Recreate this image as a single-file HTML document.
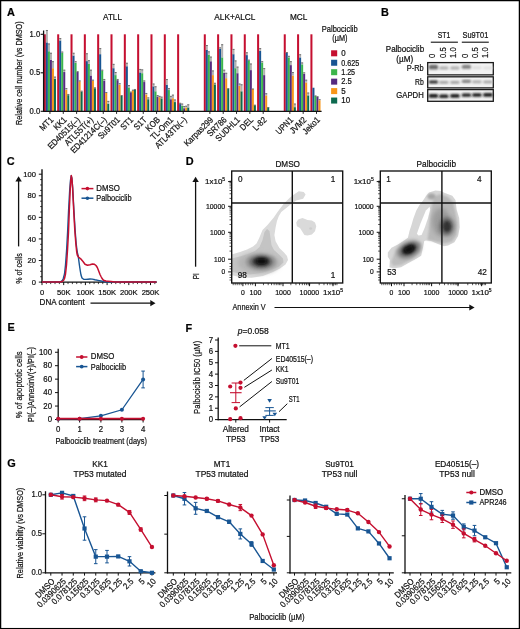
<!DOCTYPE html>
<html><head><meta charset="utf-8"><style>
html,body{margin:0;padding:0;background:#fff;}
.wrap{position:relative;width:520px;height:629px;overflow:hidden;background:#fff;}
svg{position:absolute;left:0;top:0;will-change:transform;}
text{font-family:"Liberation Sans", sans-serif;stroke:#111;stroke-width:0.22px;}
</style></head><body><div class="wrap">
<svg width="520" height="629" viewBox="0 0 520 629" font-family='"Liberation Sans", sans-serif'>
<rect x="0.6" y="0.6" width="518.8" height="628.0" fill="#fff" stroke="#000" stroke-width="1.3"/>
<defs><filter id="bl" x="-50%" y="-50%" width="200%" height="200%"><feGaussianBlur stdDeviation="0.8"/></filter><filter id="bl2" x="-50%" y="-50%" width="200%" height="200%"><feGaussianBlur stdDeviation="2.0"/></filter><filter id="bl3" x="-50%" y="-50%" width="200%" height="200%"><feGaussianBlur stdDeviation="0.9"/></filter><filter id="bl4" x="-50%" y="-50%" width="200%" height="200%"><feGaussianBlur stdDeviation="3.0"/></filter><filter id="bl5" x="-20%" y="-20%" width="140%" height="140%"><feGaussianBlur stdDeviation="0.45"/></filter></defs>
<text x="7.00" y="15.70" font-size="10.9" text-anchor="start" fill="#000" font-weight="bold" >A</text>
<text x="103.10" y="19.90" font-size="9.01" text-anchor="start" fill="#111" textLength="18.8" lengthAdjust="spacingAndGlyphs" >ATLL</text>
<text x="214.30" y="20.30" font-size="9.01" text-anchor="start" fill="#111" textLength="41.1" lengthAdjust="spacingAndGlyphs" >ALK+ALCL</text>
<text x="290.00" y="20.30" font-size="9.01" text-anchor="start" fill="#111" textLength="17.4" lengthAdjust="spacingAndGlyphs" >MCL</text>
<text x="22.00" y="73.20" font-size="9.22" text-anchor="middle" fill="#111" textLength="103.5" lengthAdjust="spacingAndGlyphs" transform="rotate(-90 22.00 73.20)" >Relative cell number (vs DMSO)</text>
<text x="40.20" y="36.99" font-size="8.27" text-anchor="end" fill="#111" textLength="10.6" lengthAdjust="spacingAndGlyphs" >1.0</text>
<line x1="40.60" y1="34.30" x2="44.00" y2="34.30" stroke="#111" stroke-width="1.1" />
<text x="40.20" y="75.49" font-size="8.27" text-anchor="end" fill="#111" textLength="10.6" lengthAdjust="spacingAndGlyphs" >0.5</text>
<line x1="40.60" y1="72.80" x2="44.00" y2="72.80" stroke="#111" stroke-width="1.1" />
<text x="40.20" y="113.99" font-size="8.27" text-anchor="end" fill="#111" textLength="10.6" lengthAdjust="spacingAndGlyphs" >0.0</text>
<line x1="40.60" y1="111.30" x2="44.00" y2="111.30" stroke="#111" stroke-width="1.1" />
<rect x="43.85" y="34.30" width="2.02" height="77.00" fill="#c50f30" />
<rect x="45.87" y="42.38" width="2.02" height="68.92" fill="#185593" />
<rect x="45.87" y="29.99" width="2.02" height="12.40" fill="#b2b2b2" />
<rect x="45.87" y="29.99" width="2.02" height="0.90" fill="#6a6a6a" />
<rect x="47.89" y="51.24" width="2.02" height="60.06" fill="#3cb54b" />
<rect x="47.89" y="43.54" width="2.02" height="7.70" fill="#b2b2b2" />
<rect x="47.89" y="43.54" width="2.02" height="0.90" fill="#6a6a6a" />
<rect x="49.91" y="59.71" width="2.02" height="51.59" fill="#552a80" />
<rect x="49.91" y="52.78" width="2.02" height="6.93" fill="#b2b2b2" />
<rect x="49.91" y="52.78" width="2.02" height="0.90" fill="#6a6a6a" />
<rect x="51.93" y="68.18" width="2.02" height="43.12" fill="#f8961a" />
<rect x="51.93" y="61.25" width="2.02" height="6.93" fill="#b2b2b2" />
<rect x="51.93" y="61.25" width="2.02" height="0.90" fill="#6a6a6a" />
<rect x="53.95" y="78.96" width="2.02" height="32.34" fill="#0d6a4f" />
<rect x="53.95" y="76.65" width="2.02" height="2.31" fill="#b2b2b2" />
<rect x="53.95" y="76.65" width="2.02" height="0.90" fill="#6a6a6a" />
<line x1="49.95" y1="111.30" x2="49.95" y2="113.90" stroke="#111" stroke-width="0.9" />
<text x="53.95" y="120.40" font-size="8.8" text-anchor="end" fill="#111" textLength="15.44" lengthAdjust="spacingAndGlyphs" transform="rotate(-45 53.95 120.40)" >MT1</text>
<rect x="57.18" y="34.30" width="2.02" height="77.00" fill="#c50f30" />
<rect x="59.20" y="40.46" width="2.02" height="70.84" fill="#185593" />
<rect x="59.20" y="38.15" width="2.02" height="2.31" fill="#b2b2b2" />
<rect x="59.20" y="38.15" width="2.02" height="0.90" fill="#6a6a6a" />
<rect x="61.22" y="52.78" width="2.02" height="58.52" fill="#3cb54b" />
<rect x="61.22" y="51.62" width="2.02" height="1.16" fill="#b2b2b2" />
<rect x="61.22" y="51.62" width="2.02" height="0.90" fill="#6a6a6a" />
<rect x="63.24" y="72.03" width="2.02" height="39.27" fill="#552a80" />
<rect x="63.24" y="69.72" width="2.02" height="2.31" fill="#b2b2b2" />
<rect x="63.24" y="69.72" width="2.02" height="0.90" fill="#6a6a6a" />
<rect x="65.26" y="89.74" width="2.02" height="21.56" fill="#f8961a" />
<rect x="65.26" y="88.20" width="2.02" height="1.54" fill="#b2b2b2" />
<rect x="65.26" y="88.20" width="2.02" height="0.90" fill="#6a6a6a" />
<rect x="67.28" y="95.13" width="2.02" height="16.17" fill="#0d6a4f" />
<rect x="67.28" y="93.97" width="2.02" height="1.16" fill="#b2b2b2" />
<rect x="67.28" y="93.97" width="2.02" height="0.90" fill="#6a6a6a" />
<line x1="63.28" y1="111.30" x2="63.28" y2="113.90" stroke="#111" stroke-width="0.9" />
<text x="67.28" y="120.40" font-size="8.8" text-anchor="end" fill="#111" textLength="14.59" lengthAdjust="spacingAndGlyphs" transform="rotate(-45 67.28 120.40)" >KK1</text>
<rect x="70.51" y="34.30" width="2.02" height="77.00" fill="#c50f30" />
<rect x="72.53" y="55.55" width="2.02" height="55.75" fill="#185593" />
<rect x="72.53" y="52.78" width="2.02" height="2.77" fill="#b2b2b2" />
<rect x="72.53" y="52.78" width="2.02" height="0.90" fill="#6a6a6a" />
<rect x="74.55" y="62.79" width="2.02" height="48.51" fill="#3cb54b" />
<rect x="74.55" y="61.25" width="2.02" height="1.54" fill="#b2b2b2" />
<rect x="74.55" y="61.25" width="2.02" height="0.90" fill="#6a6a6a" />
<rect x="76.57" y="72.03" width="2.02" height="39.27" fill="#552a80" />
<rect x="76.57" y="71.26" width="2.02" height="0.77" fill="#b2b2b2" />
<rect x="76.57" y="71.26" width="2.02" height="0.90" fill="#6a6a6a" />
<rect x="78.59" y="81.27" width="2.02" height="30.03" fill="#f8961a" />
<rect x="78.59" y="80.50" width="2.02" height="0.77" fill="#b2b2b2" />
<rect x="78.59" y="80.50" width="2.02" height="0.90" fill="#6a6a6a" />
<rect x="80.61" y="91.59" width="2.02" height="19.71" fill="#0d6a4f" />
<rect x="80.61" y="90.74" width="2.02" height="0.85" fill="#b2b2b2" />
<rect x="80.61" y="90.74" width="2.02" height="0.90" fill="#6a6a6a" />
<line x1="76.61" y1="111.30" x2="76.61" y2="113.90" stroke="#111" stroke-width="0.9" />
<text x="80.61" y="120.40" font-size="8.8" text-anchor="end" fill="#111" textLength="41.62" lengthAdjust="spacingAndGlyphs" transform="rotate(-45 80.61 120.40)" >ED40515(–)</text>
<rect x="83.83" y="34.30" width="2.02" height="77.00" fill="#c50f30" />
<rect x="85.85" y="61.10" width="2.02" height="50.20" fill="#185593" />
<rect x="85.85" y="53.32" width="2.02" height="7.78" fill="#b2b2b2" />
<rect x="85.85" y="53.32" width="2.02" height="0.90" fill="#6a6a6a" />
<rect x="87.87" y="63.87" width="2.02" height="47.43" fill="#3cb54b" />
<rect x="87.87" y="60.25" width="2.02" height="3.62" fill="#b2b2b2" />
<rect x="87.87" y="60.25" width="2.02" height="0.90" fill="#6a6a6a" />
<rect x="89.89" y="75.50" width="2.02" height="35.80" fill="#552a80" />
<rect x="89.89" y="69.72" width="2.02" height="5.78" fill="#b2b2b2" />
<rect x="89.89" y="69.72" width="2.02" height="0.90" fill="#6a6a6a" />
<rect x="91.91" y="80.50" width="2.02" height="30.80" fill="#f8961a" />
<rect x="91.91" y="79.73" width="2.02" height="0.77" fill="#b2b2b2" />
<rect x="91.91" y="79.73" width="2.02" height="0.90" fill="#6a6a6a" />
<rect x="93.93" y="88.20" width="2.02" height="23.10" fill="#0d6a4f" />
<rect x="93.93" y="87.43" width="2.02" height="0.77" fill="#b2b2b2" />
<rect x="93.93" y="87.43" width="2.02" height="0.90" fill="#6a6a6a" />
<line x1="89.93" y1="111.30" x2="89.93" y2="113.90" stroke="#111" stroke-width="0.9" />
<text x="93.93" y="120.40" font-size="8.8" text-anchor="end" fill="#111" textLength="36.53" lengthAdjust="spacingAndGlyphs" transform="rotate(-45 93.93 120.40)" >ATL55T(+)</text>
<rect x="97.16" y="34.30" width="2.02" height="77.00" fill="#c50f30" />
<rect x="99.18" y="54.17" width="2.02" height="57.13" fill="#185593" />
<rect x="99.18" y="48.16" width="2.02" height="6.01" fill="#b2b2b2" />
<rect x="99.18" y="48.16" width="2.02" height="0.90" fill="#6a6a6a" />
<rect x="101.20" y="70.49" width="2.02" height="40.81" fill="#3cb54b" />
<rect x="101.20" y="69.72" width="2.02" height="0.77" fill="#b2b2b2" />
<rect x="101.20" y="69.72" width="2.02" height="0.90" fill="#6a6a6a" />
<rect x="103.22" y="80.50" width="2.02" height="30.80" fill="#552a80" />
<rect x="103.22" y="78.96" width="2.02" height="1.54" fill="#b2b2b2" />
<rect x="103.22" y="78.96" width="2.02" height="0.90" fill="#6a6a6a" />
<rect x="105.24" y="92.97" width="2.02" height="18.33" fill="#f8961a" />
<rect x="105.24" y="92.05" width="2.02" height="0.92" fill="#b2b2b2" />
<rect x="105.24" y="92.05" width="2.02" height="0.90" fill="#6a6a6a" />
<rect x="107.26" y="103.60" width="2.02" height="7.70" fill="#0d6a4f" />
<rect x="107.26" y="100.91" width="2.02" height="2.70" fill="#b2b2b2" />
<rect x="107.26" y="100.91" width="2.02" height="0.90" fill="#6a6a6a" />
<line x1="103.26" y1="111.30" x2="103.26" y2="113.90" stroke="#111" stroke-width="0.9" />
<text x="107.26" y="120.40" font-size="8.8" text-anchor="end" fill="#111" textLength="47.19" lengthAdjust="spacingAndGlyphs" transform="rotate(-45 107.26 120.40)" >ED41214C(–)</text>
<rect x="110.49" y="34.30" width="2.02" height="77.00" fill="#c50f30" />
<rect x="112.51" y="68.18" width="2.02" height="43.12" fill="#185593" />
<rect x="112.51" y="63.87" width="2.02" height="4.31" fill="#b2b2b2" />
<rect x="112.51" y="63.87" width="2.02" height="0.90" fill="#6a6a6a" />
<rect x="114.53" y="75.11" width="2.02" height="36.19" fill="#3cb54b" />
<rect x="114.53" y="72.03" width="2.02" height="3.08" fill="#b2b2b2" />
<rect x="114.53" y="72.03" width="2.02" height="0.90" fill="#6a6a6a" />
<rect x="116.55" y="80.11" width="2.02" height="31.19" fill="#552a80" />
<rect x="116.55" y="78.96" width="2.02" height="1.15" fill="#b2b2b2" />
<rect x="116.55" y="78.96" width="2.02" height="0.90" fill="#6a6a6a" />
<rect x="118.57" y="84.66" width="2.02" height="26.64" fill="#f8961a" />
<rect x="118.57" y="83.27" width="2.02" height="1.39" fill="#b2b2b2" />
<rect x="118.57" y="83.27" width="2.02" height="0.90" fill="#6a6a6a" />
<rect x="120.59" y="95.90" width="2.02" height="15.40" fill="#0d6a4f" />
<rect x="120.59" y="95.13" width="2.02" height="0.77" fill="#b2b2b2" />
<rect x="120.59" y="95.13" width="2.02" height="0.90" fill="#6a6a6a" />
<line x1="116.59" y1="111.30" x2="116.59" y2="113.90" stroke="#111" stroke-width="0.9" />
<text x="120.59" y="120.40" font-size="8.8" text-anchor="end" fill="#111" textLength="27.03" lengthAdjust="spacingAndGlyphs" transform="rotate(-45 120.59 120.40)" >Su9T01</text>
<rect x="123.82" y="34.30" width="2.02" height="77.00" fill="#c50f30" />
<rect x="125.84" y="66.25" width="2.02" height="45.04" fill="#185593" />
<rect x="125.84" y="62.79" width="2.02" height="3.47" fill="#b2b2b2" />
<rect x="125.84" y="62.79" width="2.02" height="0.90" fill="#6a6a6a" />
<rect x="127.86" y="87.43" width="2.02" height="23.87" fill="#3cb54b" />
<rect x="127.86" y="85.12" width="2.02" height="2.31" fill="#b2b2b2" />
<rect x="127.86" y="85.12" width="2.02" height="0.90" fill="#6a6a6a" />
<rect x="129.88" y="92.28" width="2.02" height="19.02" fill="#552a80" />
<rect x="129.88" y="91.66" width="2.02" height="0.62" fill="#b2b2b2" />
<rect x="129.88" y="91.66" width="2.02" height="0.90" fill="#6a6a6a" />
<rect x="131.90" y="90.20" width="2.02" height="21.10" fill="#f8961a" />
<rect x="131.90" y="89.74" width="2.02" height="0.46" fill="#b2b2b2" />
<rect x="131.90" y="89.74" width="2.02" height="0.90" fill="#6a6a6a" />
<rect x="133.92" y="89.36" width="2.02" height="21.94" fill="#0d6a4f" />
<rect x="133.92" y="88.97" width="2.02" height="0.39" fill="#b2b2b2" />
<rect x="133.92" y="88.97" width="2.02" height="0.90" fill="#6a6a6a" />
<line x1="129.92" y1="111.30" x2="129.92" y2="113.90" stroke="#111" stroke-width="0.9" />
<text x="133.92" y="120.40" font-size="8.8" text-anchor="end" fill="#111" textLength="14.16" lengthAdjust="spacingAndGlyphs" transform="rotate(-45 133.92 120.40)" >ST1</text>
<rect x="137.15" y="34.30" width="2.02" height="77.00" fill="#c50f30" />
<rect x="139.17" y="72.41" width="2.02" height="38.88" fill="#185593" />
<rect x="139.17" y="68.95" width="2.02" height="3.47" fill="#b2b2b2" />
<rect x="139.17" y="68.95" width="2.02" height="0.90" fill="#6a6a6a" />
<rect x="141.19" y="73.19" width="2.02" height="38.12" fill="#3cb54b" />
<rect x="141.19" y="69.41" width="2.02" height="3.77" fill="#b2b2b2" />
<rect x="141.19" y="69.41" width="2.02" height="0.90" fill="#6a6a6a" />
<rect x="143.21" y="82.04" width="2.02" height="29.26" fill="#552a80" />
<rect x="143.21" y="80.50" width="2.02" height="1.54" fill="#b2b2b2" />
<rect x="143.21" y="80.50" width="2.02" height="0.90" fill="#6a6a6a" />
<rect x="145.23" y="94.36" width="2.02" height="16.94" fill="#f8961a" />
<rect x="145.23" y="92.97" width="2.02" height="1.39" fill="#b2b2b2" />
<rect x="145.23" y="92.97" width="2.02" height="0.90" fill="#6a6a6a" />
<rect x="147.25" y="99.21" width="2.02" height="12.09" fill="#0d6a4f" />
<rect x="147.25" y="97.44" width="2.02" height="1.77" fill="#b2b2b2" />
<rect x="147.25" y="97.44" width="2.02" height="0.90" fill="#6a6a6a" />
<line x1="143.25" y1="111.30" x2="143.25" y2="113.90" stroke="#111" stroke-width="0.9" />
<text x="147.25" y="120.40" font-size="8.8" text-anchor="end" fill="#111" textLength="14.16" lengthAdjust="spacingAndGlyphs" transform="rotate(-45 147.25 120.40)" >S1T</text>
<rect x="150.47" y="34.30" width="2.02" height="77.00" fill="#c50f30" />
<rect x="152.49" y="86.35" width="2.02" height="24.95" fill="#185593" />
<rect x="152.49" y="83.58" width="2.02" height="2.77" fill="#b2b2b2" />
<rect x="152.49" y="83.58" width="2.02" height="0.90" fill="#6a6a6a" />
<rect x="154.51" y="91.28" width="2.02" height="20.02" fill="#3cb54b" />
<rect x="154.51" y="86.35" width="2.02" height="4.93" fill="#b2b2b2" />
<rect x="154.51" y="86.35" width="2.02" height="0.90" fill="#6a6a6a" />
<rect x="156.53" y="96.44" width="2.02" height="14.86" fill="#552a80" />
<rect x="156.53" y="95.13" width="2.02" height="1.31" fill="#b2b2b2" />
<rect x="156.53" y="95.13" width="2.02" height="0.90" fill="#6a6a6a" />
<rect x="158.55" y="97.13" width="2.02" height="14.17" fill="#f8961a" />
<rect x="158.55" y="95.90" width="2.02" height="1.23" fill="#b2b2b2" />
<rect x="158.55" y="95.90" width="2.02" height="0.90" fill="#6a6a6a" />
<rect x="160.57" y="98.36" width="2.02" height="12.94" fill="#0d6a4f" />
<rect x="160.57" y="96.67" width="2.02" height="1.69" fill="#b2b2b2" />
<rect x="160.57" y="96.67" width="2.02" height="0.90" fill="#6a6a6a" />
<line x1="156.57" y1="111.30" x2="156.57" y2="113.90" stroke="#111" stroke-width="0.9" />
<text x="160.57" y="120.40" font-size="8.8" text-anchor="end" fill="#111" textLength="16.3" lengthAdjust="spacingAndGlyphs" transform="rotate(-45 160.57 120.40)" >KOB</text>
<rect x="163.80" y="34.30" width="2.02" height="77.00" fill="#c50f30" />
<rect x="165.82" y="84.66" width="2.02" height="26.64" fill="#185593" />
<rect x="165.82" y="79.11" width="2.02" height="5.54" fill="#b2b2b2" />
<rect x="165.82" y="79.11" width="2.02" height="0.90" fill="#6a6a6a" />
<rect x="167.84" y="90.05" width="2.02" height="21.25" fill="#3cb54b" />
<rect x="167.84" y="88.20" width="2.02" height="1.85" fill="#b2b2b2" />
<rect x="167.84" y="88.20" width="2.02" height="0.90" fill="#6a6a6a" />
<rect x="169.86" y="99.21" width="2.02" height="12.09" fill="#552a80" />
<rect x="169.86" y="95.90" width="2.02" height="3.31" fill="#b2b2b2" />
<rect x="169.86" y="95.90" width="2.02" height="0.90" fill="#6a6a6a" />
<rect x="171.88" y="98.21" width="2.02" height="13.09" fill="#f8961a" />
<rect x="171.88" y="94.67" width="2.02" height="3.54" fill="#b2b2b2" />
<rect x="171.88" y="94.67" width="2.02" height="0.90" fill="#6a6a6a" />
<rect x="173.90" y="102.06" width="2.02" height="9.24" fill="#0d6a4f" />
<rect x="173.90" y="99.52" width="2.02" height="2.54" fill="#b2b2b2" />
<rect x="173.90" y="99.52" width="2.02" height="0.90" fill="#6a6a6a" />
<line x1="169.90" y1="111.30" x2="169.90" y2="113.90" stroke="#111" stroke-width="0.9" />
<text x="173.90" y="120.40" font-size="8.8" text-anchor="end" fill="#111" textLength="28.3" lengthAdjust="spacingAndGlyphs" transform="rotate(-45 173.90 120.40)" >TL-Om1</text>
<rect x="177.13" y="34.30" width="2.02" height="77.00" fill="#c50f30" />
<rect x="179.15" y="104.06" width="2.02" height="7.24" fill="#185593" />
<rect x="179.15" y="102.83" width="2.02" height="1.23" fill="#b2b2b2" />
<rect x="179.15" y="102.83" width="2.02" height="0.90" fill="#6a6a6a" />
<rect x="181.17" y="105.76" width="2.02" height="5.54" fill="#3cb54b" />
<rect x="181.17" y="103.60" width="2.02" height="2.16" fill="#b2b2b2" />
<rect x="181.17" y="103.60" width="2.02" height="0.90" fill="#6a6a6a" />
<rect x="183.19" y="108.22" width="2.02" height="3.08" fill="#552a80" />
<rect x="183.19" y="106.06" width="2.02" height="2.16" fill="#b2b2b2" />
<rect x="183.19" y="106.06" width="2.02" height="0.90" fill="#6a6a6a" />
<rect x="185.21" y="107.45" width="2.02" height="3.85" fill="#f8961a" />
<rect x="185.21" y="105.76" width="2.02" height="1.69" fill="#b2b2b2" />
<rect x="185.21" y="105.76" width="2.02" height="0.90" fill="#6a6a6a" />
<rect x="187.23" y="107.45" width="2.02" height="3.85" fill="#0d6a4f" />
<rect x="187.23" y="104.37" width="2.02" height="3.08" fill="#b2b2b2" />
<rect x="187.23" y="104.37" width="2.02" height="0.90" fill="#6a6a6a" />
<line x1="183.23" y1="111.30" x2="183.23" y2="113.90" stroke="#111" stroke-width="0.9" />
<text x="187.23" y="120.40" font-size="8.8" text-anchor="end" fill="#111" textLength="40.61" lengthAdjust="spacingAndGlyphs" transform="rotate(-45 187.23 120.40)" >ATL43Tb(–)</text>
<rect x="203.79" y="34.30" width="2.02" height="77.00" fill="#c50f30" />
<rect x="205.81" y="50.01" width="2.02" height="61.29" fill="#185593" />
<rect x="205.81" y="45.08" width="2.02" height="4.93" fill="#b2b2b2" />
<rect x="205.81" y="45.08" width="2.02" height="0.90" fill="#6a6a6a" />
<rect x="207.83" y="54.70" width="2.02" height="56.59" fill="#3cb54b" />
<rect x="207.83" y="51.39" width="2.02" height="3.31" fill="#b2b2b2" />
<rect x="207.83" y="51.39" width="2.02" height="0.90" fill="#6a6a6a" />
<rect x="209.85" y="61.25" width="2.02" height="50.05" fill="#552a80" />
<rect x="209.85" y="56.63" width="2.02" height="4.62" fill="#b2b2b2" />
<rect x="209.85" y="56.63" width="2.02" height="0.90" fill="#6a6a6a" />
<rect x="211.87" y="75.11" width="2.02" height="36.19" fill="#f8961a" />
<rect x="211.87" y="70.49" width="2.02" height="4.62" fill="#b2b2b2" />
<rect x="211.87" y="70.49" width="2.02" height="0.90" fill="#6a6a6a" />
<rect x="213.89" y="84.35" width="2.02" height="26.95" fill="#0d6a4f" />
<rect x="213.89" y="82.81" width="2.02" height="1.54" fill="#b2b2b2" />
<rect x="213.89" y="82.81" width="2.02" height="0.90" fill="#6a6a6a" />
<line x1="209.89" y1="111.30" x2="209.89" y2="113.90" stroke="#111" stroke-width="0.9" />
<text x="213.89" y="120.40" font-size="8.8" text-anchor="end" fill="#111" textLength="37.33" lengthAdjust="spacingAndGlyphs" transform="rotate(-45 213.89 120.40)" >Karpas299</text>
<rect x="217.11" y="34.30" width="2.02" height="77.00" fill="#c50f30" />
<rect x="219.13" y="48.62" width="2.02" height="62.68" fill="#185593" />
<rect x="219.13" y="47.39" width="2.02" height="1.23" fill="#b2b2b2" />
<rect x="219.13" y="47.39" width="2.02" height="0.90" fill="#6a6a6a" />
<rect x="221.15" y="57.40" width="2.02" height="53.90" fill="#3cb54b" />
<rect x="221.15" y="44.31" width="2.02" height="13.09" fill="#b2b2b2" />
<rect x="221.15" y="44.31" width="2.02" height="0.90" fill="#6a6a6a" />
<rect x="223.17" y="72.80" width="2.02" height="38.50" fill="#552a80" />
<rect x="223.17" y="69.72" width="2.02" height="3.08" fill="#b2b2b2" />
<rect x="223.17" y="69.72" width="2.02" height="0.90" fill="#6a6a6a" />
<rect x="225.19" y="78.19" width="2.02" height="33.11" fill="#f8961a" />
<rect x="225.19" y="72.80" width="2.02" height="5.39" fill="#b2b2b2" />
<rect x="225.19" y="72.80" width="2.02" height="0.90" fill="#6a6a6a" />
<rect x="227.21" y="88.97" width="2.02" height="22.33" fill="#0d6a4f" />
<rect x="227.21" y="88.20" width="2.02" height="0.77" fill="#b2b2b2" />
<rect x="227.21" y="88.20" width="2.02" height="0.90" fill="#6a6a6a" />
<line x1="223.21" y1="111.30" x2="223.21" y2="113.90" stroke="#111" stroke-width="0.9" />
<text x="227.21" y="120.40" font-size="8.8" text-anchor="end" fill="#111" textLength="23.6" lengthAdjust="spacingAndGlyphs" transform="rotate(-45 227.21 120.40)" >SR786</text>
<rect x="230.44" y="34.30" width="2.02" height="77.00" fill="#c50f30" />
<rect x="232.46" y="54.17" width="2.02" height="57.13" fill="#185593" />
<rect x="232.46" y="48.93" width="2.02" height="5.24" fill="#b2b2b2" />
<rect x="232.46" y="48.93" width="2.02" height="0.90" fill="#6a6a6a" />
<rect x="234.48" y="68.18" width="2.02" height="43.12" fill="#3cb54b" />
<rect x="234.48" y="60.48" width="2.02" height="7.70" fill="#b2b2b2" />
<rect x="234.48" y="60.48" width="2.02" height="0.90" fill="#6a6a6a" />
<rect x="236.50" y="73.19" width="2.02" height="38.12" fill="#552a80" />
<rect x="236.50" y="66.64" width="2.02" height="6.54" fill="#b2b2b2" />
<rect x="236.50" y="66.64" width="2.02" height="0.90" fill="#6a6a6a" />
<rect x="238.52" y="85.89" width="2.02" height="25.41" fill="#f8961a" />
<rect x="238.52" y="83.58" width="2.02" height="2.31" fill="#b2b2b2" />
<rect x="238.52" y="83.58" width="2.02" height="0.90" fill="#6a6a6a" />
<rect x="240.54" y="91.28" width="2.02" height="20.02" fill="#0d6a4f" />
<rect x="240.54" y="84.35" width="2.02" height="6.93" fill="#b2b2b2" />
<rect x="240.54" y="84.35" width="2.02" height="0.90" fill="#6a6a6a" />
<line x1="236.54" y1="111.30" x2="236.54" y2="113.90" stroke="#111" stroke-width="0.9" />
<text x="240.54" y="120.40" font-size="8.8" text-anchor="end" fill="#111" textLength="30.46" lengthAdjust="spacingAndGlyphs" transform="rotate(-45 240.54 120.40)" >SUDHL1</text>
<rect x="243.77" y="34.30" width="2.02" height="77.00" fill="#c50f30" />
<rect x="245.79" y="55.09" width="2.02" height="56.21" fill="#185593" />
<rect x="245.79" y="52.32" width="2.02" height="2.77" fill="#b2b2b2" />
<rect x="245.79" y="52.32" width="2.02" height="0.90" fill="#6a6a6a" />
<rect x="247.81" y="60.48" width="2.02" height="50.82" fill="#3cb54b" />
<rect x="247.81" y="59.71" width="2.02" height="0.77" fill="#b2b2b2" />
<rect x="247.81" y="59.71" width="2.02" height="0.90" fill="#6a6a6a" />
<rect x="249.83" y="70.10" width="2.02" height="41.20" fill="#552a80" />
<rect x="249.83" y="63.56" width="2.02" height="6.54" fill="#b2b2b2" />
<rect x="249.83" y="63.56" width="2.02" height="0.90" fill="#6a6a6a" />
<rect x="251.85" y="88.97" width="2.02" height="22.33" fill="#f8961a" />
<rect x="251.85" y="88.58" width="2.02" height="0.39" fill="#b2b2b2" />
<rect x="251.85" y="88.58" width="2.02" height="0.90" fill="#6a6a6a" />
<rect x="253.87" y="105.14" width="2.02" height="6.16" fill="#0d6a4f" />
<rect x="253.87" y="104.75" width="2.02" height="0.39" fill="#b2b2b2" />
<rect x="253.87" y="104.75" width="2.02" height="0.90" fill="#6a6a6a" />
<line x1="249.87" y1="111.30" x2="249.87" y2="113.90" stroke="#111" stroke-width="0.9" />
<text x="253.87" y="120.40" font-size="8.8" text-anchor="end" fill="#111" textLength="15.02" lengthAdjust="spacingAndGlyphs" transform="rotate(-45 253.87 120.40)" >DEL</text>
<rect x="257.10" y="34.30" width="2.02" height="77.00" fill="#c50f30" />
<rect x="259.12" y="50.93" width="2.02" height="60.37" fill="#185593" />
<rect x="259.12" y="48.16" width="2.02" height="2.77" fill="#b2b2b2" />
<rect x="259.12" y="48.16" width="2.02" height="0.90" fill="#6a6a6a" />
<rect x="261.14" y="62.48" width="2.02" height="48.82" fill="#3cb54b" />
<rect x="261.14" y="61.25" width="2.02" height="1.23" fill="#b2b2b2" />
<rect x="261.14" y="61.25" width="2.02" height="0.90" fill="#6a6a6a" />
<rect x="263.16" y="75.11" width="2.02" height="36.19" fill="#552a80" />
<rect x="263.16" y="68.18" width="2.02" height="6.93" fill="#b2b2b2" />
<rect x="263.16" y="68.18" width="2.02" height="0.90" fill="#6a6a6a" />
<rect x="265.18" y="95.36" width="2.02" height="15.94" fill="#f8961a" />
<rect x="265.18" y="93.28" width="2.02" height="2.08" fill="#b2b2b2" />
<rect x="265.18" y="93.28" width="2.02" height="0.90" fill="#6a6a6a" />
<rect x="267.20" y="107.45" width="2.02" height="3.85" fill="#0d6a4f" />
<rect x="267.20" y="107.06" width="2.02" height="0.38" fill="#b2b2b2" />
<rect x="267.20" y="107.06" width="2.02" height="0.90" fill="#6a6a6a" />
<line x1="263.20" y1="111.30" x2="263.20" y2="113.90" stroke="#111" stroke-width="0.9" />
<text x="267.20" y="120.40" font-size="8.8" text-anchor="end" fill="#111" textLength="15.45" lengthAdjust="spacingAndGlyphs" transform="rotate(-45 267.20 120.40)" >L-82</text>
<rect x="283.75" y="34.30" width="2.02" height="77.00" fill="#c50f30" />
<rect x="285.77" y="53.01" width="2.02" height="58.29" fill="#185593" />
<rect x="285.77" y="52.01" width="2.02" height="1.00" fill="#b2b2b2" />
<rect x="285.77" y="52.01" width="2.02" height="0.90" fill="#6a6a6a" />
<rect x="287.79" y="57.40" width="2.02" height="53.90" fill="#3cb54b" />
<rect x="287.79" y="55.86" width="2.02" height="1.54" fill="#b2b2b2" />
<rect x="287.79" y="55.86" width="2.02" height="0.90" fill="#6a6a6a" />
<rect x="289.81" y="65.10" width="2.02" height="46.20" fill="#552a80" />
<rect x="289.81" y="61.25" width="2.02" height="3.85" fill="#b2b2b2" />
<rect x="289.81" y="61.25" width="2.02" height="0.90" fill="#6a6a6a" />
<rect x="291.83" y="75.50" width="2.02" height="35.80" fill="#f8961a" />
<rect x="291.83" y="72.03" width="2.02" height="3.46" fill="#b2b2b2" />
<rect x="291.83" y="72.03" width="2.02" height="0.90" fill="#6a6a6a" />
<rect x="293.85" y="107.14" width="2.02" height="4.16" fill="#0d6a4f" />
<rect x="293.85" y="103.60" width="2.02" height="3.54" fill="#b2b2b2" />
<rect x="293.85" y="103.60" width="2.02" height="0.90" fill="#6a6a6a" />
<line x1="289.85" y1="111.30" x2="289.85" y2="113.90" stroke="#111" stroke-width="0.9" />
<text x="293.85" y="120.40" font-size="8.8" text-anchor="end" fill="#111" textLength="20.59" lengthAdjust="spacingAndGlyphs" transform="rotate(-45 293.85 120.40)" >UPN1</text>
<rect x="297.08" y="34.30" width="2.02" height="77.00" fill="#c50f30" />
<rect x="299.10" y="57.40" width="2.02" height="53.90" fill="#185593" />
<rect x="299.10" y="54.32" width="2.02" height="3.08" fill="#b2b2b2" />
<rect x="299.10" y="54.32" width="2.02" height="0.90" fill="#6a6a6a" />
<rect x="301.12" y="64.33" width="2.02" height="46.97" fill="#3cb54b" />
<rect x="301.12" y="62.48" width="2.02" height="1.85" fill="#b2b2b2" />
<rect x="301.12" y="62.48" width="2.02" height="0.90" fill="#6a6a6a" />
<rect x="303.14" y="73.88" width="2.02" height="37.42" fill="#552a80" />
<rect x="303.14" y="72.41" width="2.02" height="1.46" fill="#b2b2b2" />
<rect x="303.14" y="72.41" width="2.02" height="0.90" fill="#6a6a6a" />
<rect x="305.16" y="82.42" width="2.02" height="28.88" fill="#f8961a" />
<rect x="305.16" y="79.73" width="2.02" height="2.69" fill="#b2b2b2" />
<rect x="305.16" y="79.73" width="2.02" height="0.90" fill="#6a6a6a" />
<rect x="307.18" y="95.36" width="2.02" height="15.94" fill="#0d6a4f" />
<rect x="307.18" y="92.59" width="2.02" height="2.77" fill="#b2b2b2" />
<rect x="307.18" y="92.59" width="2.02" height="0.90" fill="#6a6a6a" />
<line x1="303.18" y1="111.30" x2="303.18" y2="113.90" stroke="#111" stroke-width="0.9" />
<text x="307.18" y="120.40" font-size="8.8" text-anchor="end" fill="#111" textLength="19.73" lengthAdjust="spacingAndGlyphs" transform="rotate(-45 307.18 120.40)" >JVM2</text>
<rect x="310.41" y="34.30" width="2.02" height="77.00" fill="#c50f30" />
<rect x="312.43" y="87.74" width="2.02" height="23.56" fill="#185593" />
<rect x="314.45" y="95.90" width="2.02" height="15.40" fill="#3cb54b" />
<rect x="314.45" y="95.52" width="2.02" height="0.38" fill="#b2b2b2" />
<rect x="314.45" y="95.52" width="2.02" height="0.90" fill="#6a6a6a" />
<rect x="316.47" y="96.98" width="2.02" height="14.32" fill="#552a80" />
<rect x="316.47" y="96.28" width="2.02" height="0.69" fill="#b2b2b2" />
<rect x="316.47" y="96.28" width="2.02" height="0.90" fill="#6a6a6a" />
<rect x="318.49" y="100.21" width="2.02" height="11.09" fill="#f8961a" />
<rect x="318.49" y="99.21" width="2.02" height="1.00" fill="#b2b2b2" />
<rect x="318.49" y="99.21" width="2.02" height="0.90" fill="#6a6a6a" />
<line x1="316.51" y1="111.30" x2="316.51" y2="113.90" stroke="#111" stroke-width="0.9" />
<text x="320.51" y="120.40" font-size="8.8" text-anchor="end" fill="#111" textLength="20.6" lengthAdjust="spacingAndGlyphs" transform="rotate(-45 320.51 120.40)" >Jeko1</text>
<line x1="43.60" y1="30.50" x2="43.60" y2="111.90" stroke="#111" stroke-width="1.3" />
<line x1="43.00" y1="111.30" x2="321.60" y2="111.30" stroke="#111" stroke-width="1.3" />
<text x="321.80" y="32.26" font-size="8.48" text-anchor="start" fill="#111" textLength="35.9" lengthAdjust="spacingAndGlyphs" >Palbociclib</text>
<text x="339.90" y="40.76" font-size="8.48" text-anchor="middle" fill="#111" textLength="15.2" lengthAdjust="spacingAndGlyphs" >(µM)</text>
<rect x="331.10" y="50.30" width="6.10" height="6.00" fill="#c50f30" />
<text x="341.20" y="56.06" font-size="8.48" text-anchor="start" fill="#111" textLength="4.4" lengthAdjust="spacingAndGlyphs" >0</text>
<rect x="331.10" y="59.75" width="6.10" height="6.00" fill="#185593" />
<text x="341.20" y="65.51" font-size="8.48" text-anchor="start" fill="#111" textLength="18.0" lengthAdjust="spacingAndGlyphs" >0.625</text>
<rect x="331.10" y="69.20" width="6.10" height="6.00" fill="#3cb54b" />
<text x="341.20" y="74.96" font-size="8.48" text-anchor="start" fill="#111" textLength="13.9" lengthAdjust="spacingAndGlyphs" >1.25</text>
<rect x="331.10" y="78.65" width="6.10" height="6.00" fill="#552a80" />
<text x="341.20" y="84.41" font-size="8.48" text-anchor="start" fill="#111" textLength="10.6" lengthAdjust="spacingAndGlyphs" >2.5</text>
<rect x="331.10" y="88.10" width="6.10" height="6.00" fill="#f8961a" />
<text x="341.20" y="93.86" font-size="8.48" text-anchor="start" fill="#111" textLength="4.4" lengthAdjust="spacingAndGlyphs" >5</text>
<rect x="331.10" y="97.55" width="6.10" height="6.00" fill="#0d6a4f" />
<text x="341.20" y="103.31" font-size="8.48" text-anchor="start" fill="#111" textLength="8.9" lengthAdjust="spacingAndGlyphs" >10</text>
<text x="381.00" y="15.80" font-size="10.9" text-anchor="start" fill="#000" font-weight="bold" >B</text>
<text x="437.70" y="38.20" font-size="8.69" text-anchor="start" fill="#111" textLength="12.5" lengthAdjust="spacingAndGlyphs" >ST1</text>
<text x="462.50" y="38.20" font-size="8.69" text-anchor="start" fill="#111" textLength="25.8" lengthAdjust="spacingAndGlyphs" >Su9T01</text>
<line x1="430.80" y1="42.20" x2="457.90" y2="42.20" stroke="#111" stroke-width="1.1" />
<line x1="461.80" y1="42.20" x2="488.80" y2="42.20" stroke="#111" stroke-width="1.1" />
<text x="385.80" y="52.20" font-size="8.37" text-anchor="start" fill="#111" textLength="38.3" lengthAdjust="spacingAndGlyphs" >Palbociclib</text>
<text x="396.30" y="61.60" font-size="8.37" text-anchor="start" fill="#111" textLength="16.9" lengthAdjust="spacingAndGlyphs" >(µM)</text>
<text x="435.10" y="57.90" font-size="8.16" text-anchor="start" fill="#111" textLength="4.3" lengthAdjust="spacingAndGlyphs" transform="rotate(-90 435.10 57.90)" >0</text>
<text x="446.00" y="57.90" font-size="8.16" text-anchor="start" fill="#111" textLength="10.6" lengthAdjust="spacingAndGlyphs" transform="rotate(-90 446.00 57.90)" >0.5</text>
<text x="456.10" y="57.90" font-size="8.16" text-anchor="start" fill="#111" textLength="10.6" lengthAdjust="spacingAndGlyphs" transform="rotate(-90 456.10 57.90)" >1.0</text>
<text x="468.00" y="57.90" font-size="8.16" text-anchor="start" fill="#111" textLength="4.3" lengthAdjust="spacingAndGlyphs" transform="rotate(-90 468.00 57.90)" >0</text>
<text x="478.00" y="57.90" font-size="8.16" text-anchor="start" fill="#111" textLength="10.6" lengthAdjust="spacingAndGlyphs" transform="rotate(-90 478.00 57.90)" >0.5</text>
<text x="488.00" y="57.90" font-size="8.16" text-anchor="start" fill="#111" textLength="10.6" lengthAdjust="spacingAndGlyphs" transform="rotate(-90 488.00 57.90)" >1.0</text>
<rect x="427.70" y="62.60" width="65.60" height="12.30" fill="#f2f2f2" stroke="#1a1a1a" stroke-width="1.3"/>
<rect x="428.7" y="65.4" width="9.4" height="4.0" rx="1.5" fill="rgb(110,110,110)" filter="url(#bl)"/>
<rect x="429.4" y="65.4" width="8.0" height="1.3" rx="0.6" fill="rgb(78,78,78)" filter="url(#bl)"/>
<rect x="439.1" y="66.4" width="9.4" height="3.0" rx="1.5" fill="rgb(172,172,172)" filter="url(#bl)"/>
<rect x="450.2" y="66.4" width="9.4" height="3.0" rx="1.5" fill="rgb(172,172,172)" filter="url(#bl)"/>
<rect x="461.7" y="65.5" width="9.4" height="3.4" rx="1.5" fill="rgb(140,140,140)" filter="url(#bl)"/>
<rect x="462.4" y="65.5" width="8.0" height="1.3" rx="0.6" fill="rgb(100,100,100)" filter="url(#bl)"/>
<rect x="472.2" y="66.5" width="9.4" height="2.6" rx="1.5" fill="rgb(218,218,218)" filter="url(#bl)"/>
<rect x="483.2" y="66.7" width="9.4" height="2.6" rx="1.5" fill="rgb(222,222,222)" filter="url(#bl)"/>
<text x="423.70" y="71.20" font-size="8.37" text-anchor="end" fill="#111" textLength="16.9" lengthAdjust="spacingAndGlyphs" >P-Rb</text>
<rect x="427.70" y="76.80" width="65.60" height="11.10" fill="#f2f2f2" stroke="#1a1a1a" stroke-width="1.3"/>
<rect x="428.7" y="80.4" width="9.4" height="3.0" rx="1.5" fill="rgb(42,42,42)" filter="url(#bl)"/>
<rect x="439.1" y="81.1" width="9.4" height="2.6" rx="1.5" fill="rgb(160,160,160)" filter="url(#bl)"/>
<rect x="450.2" y="81.1" width="9.4" height="2.6" rx="1.5" fill="rgb(158,158,158)" filter="url(#bl)"/>
<rect x="461.7" y="80.2" width="9.4" height="2.8" rx="1.5" fill="rgb(140,140,140)" filter="url(#bl)"/>
<rect x="462.4" y="80.2" width="8.0" height="1.3" rx="0.6" fill="rgb(120,120,120)" filter="url(#bl)"/>
<rect x="472.2" y="80.6" width="9.4" height="2.6" rx="1.5" fill="rgb(168,168,168)" filter="url(#bl)"/>
<rect x="483.2" y="80.7" width="9.4" height="2.6" rx="1.5" fill="rgb(160,160,160)" filter="url(#bl)"/>
<text x="423.70" y="84.80" font-size="8.37" text-anchor="end" fill="#111" textLength="8.7" lengthAdjust="spacingAndGlyphs" >Rb</text>
<rect x="427.70" y="89.60" width="65.60" height="11.70" fill="#f2f2f2" stroke="#1a1a1a" stroke-width="1.3"/>
<rect x="428.7" y="94.0" width="9.4" height="3.8" rx="1.5" fill="rgb(22,22,22)" filter="url(#bl)"/>
<rect x="439.1" y="94.5" width="9.4" height="3.6" rx="1.5" fill="rgb(26,26,26)" filter="url(#bl)"/>
<rect x="450.2" y="94.1" width="9.4" height="3.6" rx="1.5" fill="rgb(26,26,26)" filter="url(#bl)"/>
<rect x="461.7" y="93.4" width="9.4" height="3.4" rx="1.5" fill="rgb(28,28,28)" filter="url(#bl)"/>
<rect x="472.2" y="93.3" width="9.4" height="3.4" rx="1.5" fill="rgb(28,28,28)" filter="url(#bl)"/>
<rect x="483.2" y="93.0" width="9.4" height="3.8" rx="1.5" fill="rgb(26,26,26)" filter="url(#bl)"/>
<text x="423.70" y="98.00" font-size="8.37" text-anchor="end" fill="#111" textLength="27.4" lengthAdjust="spacingAndGlyphs" >GAPDH</text>
<text x="6.70" y="164.80" font-size="10.9" text-anchor="start" fill="#000" font-weight="bold" >C</text>
<line x1="18.60" y1="246.40" x2="18.60" y2="180.00" stroke="#111" stroke-width="1.3" />
<path d="M15.4,181.6 L18.6,176.3 L21.8,181.6 Z" fill="#111"/>
<text x="22.00" y="268.50" font-size="9.43" text-anchor="middle" fill="#111" textLength="30.5" lengthAdjust="spacingAndGlyphs" transform="rotate(-90 22.00 268.50)" >% of cells</text>
<line x1="38.80" y1="282.10" x2="42.00" y2="282.10" stroke="#111" stroke-width="1.0" />
<text x="36.00" y="284.72" font-size="8.06" text-anchor="end" fill="#111" textLength="4.23" lengthAdjust="spacingAndGlyphs" >0</text>
<line x1="40.10" y1="276.71" x2="42.00" y2="276.71" stroke="#111" stroke-width="0.8" />
<line x1="40.10" y1="271.31" x2="42.00" y2="271.31" stroke="#111" stroke-width="0.8" />
<line x1="40.10" y1="265.92" x2="42.00" y2="265.92" stroke="#111" stroke-width="0.8" />
<line x1="38.80" y1="260.52" x2="42.00" y2="260.52" stroke="#111" stroke-width="1.0" />
<text x="36.00" y="263.14" font-size="8.06" text-anchor="end" fill="#111" textLength="8.45" lengthAdjust="spacingAndGlyphs" >20</text>
<line x1="40.10" y1="255.13" x2="42.00" y2="255.13" stroke="#111" stroke-width="0.8" />
<line x1="40.10" y1="249.73" x2="42.00" y2="249.73" stroke="#111" stroke-width="0.8" />
<line x1="40.10" y1="244.34" x2="42.00" y2="244.34" stroke="#111" stroke-width="0.8" />
<line x1="38.80" y1="238.94" x2="42.00" y2="238.94" stroke="#111" stroke-width="1.0" />
<text x="36.00" y="241.56" font-size="8.06" text-anchor="end" fill="#111" textLength="8.45" lengthAdjust="spacingAndGlyphs" >40</text>
<line x1="40.10" y1="233.55" x2="42.00" y2="233.55" stroke="#111" stroke-width="0.8" />
<line x1="40.10" y1="228.15" x2="42.00" y2="228.15" stroke="#111" stroke-width="0.8" />
<line x1="40.10" y1="222.76" x2="42.00" y2="222.76" stroke="#111" stroke-width="0.8" />
<line x1="38.80" y1="217.36" x2="42.00" y2="217.36" stroke="#111" stroke-width="1.0" />
<text x="36.00" y="219.98" font-size="8.06" text-anchor="end" fill="#111" textLength="8.45" lengthAdjust="spacingAndGlyphs" >60</text>
<line x1="40.10" y1="211.97" x2="42.00" y2="211.97" stroke="#111" stroke-width="0.8" />
<line x1="40.10" y1="206.57" x2="42.00" y2="206.57" stroke="#111" stroke-width="0.8" />
<line x1="40.10" y1="201.18" x2="42.00" y2="201.18" stroke="#111" stroke-width="0.8" />
<line x1="38.80" y1="195.78" x2="42.00" y2="195.78" stroke="#111" stroke-width="1.0" />
<text x="36.00" y="198.40" font-size="8.06" text-anchor="end" fill="#111" textLength="8.45" lengthAdjust="spacingAndGlyphs" >80</text>
<line x1="40.10" y1="190.39" x2="42.00" y2="190.39" stroke="#111" stroke-width="0.8" />
<line x1="40.10" y1="184.99" x2="42.00" y2="184.99" stroke="#111" stroke-width="0.8" />
<line x1="40.10" y1="179.60" x2="42.00" y2="179.60" stroke="#111" stroke-width="0.8" />
<line x1="38.80" y1="174.20" x2="42.00" y2="174.20" stroke="#111" stroke-width="1.0" />
<text x="36.00" y="176.82" font-size="8.06" text-anchor="end" fill="#111" textLength="12.68" lengthAdjust="spacingAndGlyphs" >100</text>
<line x1="42.00" y1="169.20" x2="42.00" y2="282.70" stroke="#111" stroke-width="1.4" />
<line x1="41.40" y1="282.10" x2="156.70" y2="282.10" stroke="#111" stroke-width="1.4" />
<line x1="42.00" y1="282.10" x2="42.00" y2="285.10" stroke="#111" stroke-width="1.0" />
<line x1="46.34" y1="282.10" x2="46.34" y2="284.10" stroke="#111" stroke-width="0.8" />
<line x1="50.68" y1="282.10" x2="50.68" y2="284.10" stroke="#111" stroke-width="0.8" />
<line x1="55.02" y1="282.10" x2="55.02" y2="284.10" stroke="#111" stroke-width="0.8" />
<line x1="59.36" y1="282.10" x2="59.36" y2="284.10" stroke="#111" stroke-width="0.8" />
<line x1="63.70" y1="282.10" x2="63.70" y2="285.10" stroke="#111" stroke-width="1.0" />
<line x1="68.04" y1="282.10" x2="68.04" y2="284.10" stroke="#111" stroke-width="0.8" />
<line x1="72.38" y1="282.10" x2="72.38" y2="284.10" stroke="#111" stroke-width="0.8" />
<line x1="76.72" y1="282.10" x2="76.72" y2="284.10" stroke="#111" stroke-width="0.8" />
<line x1="81.06" y1="282.10" x2="81.06" y2="284.10" stroke="#111" stroke-width="0.8" />
<line x1="85.40" y1="282.10" x2="85.40" y2="285.10" stroke="#111" stroke-width="1.0" />
<line x1="89.74" y1="282.10" x2="89.74" y2="284.10" stroke="#111" stroke-width="0.8" />
<line x1="94.08" y1="282.10" x2="94.08" y2="284.10" stroke="#111" stroke-width="0.8" />
<line x1="98.42" y1="282.10" x2="98.42" y2="284.10" stroke="#111" stroke-width="0.8" />
<line x1="102.76" y1="282.10" x2="102.76" y2="284.10" stroke="#111" stroke-width="0.8" />
<line x1="107.10" y1="282.10" x2="107.10" y2="285.10" stroke="#111" stroke-width="1.0" />
<line x1="111.44" y1="282.10" x2="111.44" y2="284.10" stroke="#111" stroke-width="0.8" />
<line x1="115.78" y1="282.10" x2="115.78" y2="284.10" stroke="#111" stroke-width="0.8" />
<line x1="120.12" y1="282.10" x2="120.12" y2="284.10" stroke="#111" stroke-width="0.8" />
<line x1="124.46" y1="282.10" x2="124.46" y2="284.10" stroke="#111" stroke-width="0.8" />
<line x1="128.80" y1="282.10" x2="128.80" y2="285.10" stroke="#111" stroke-width="1.0" />
<line x1="133.14" y1="282.10" x2="133.14" y2="284.10" stroke="#111" stroke-width="0.8" />
<line x1="137.48" y1="282.10" x2="137.48" y2="284.10" stroke="#111" stroke-width="0.8" />
<line x1="141.82" y1="282.10" x2="141.82" y2="284.10" stroke="#111" stroke-width="0.8" />
<line x1="146.16" y1="282.10" x2="146.16" y2="284.10" stroke="#111" stroke-width="0.8" />
<line x1="150.50" y1="282.10" x2="150.50" y2="285.10" stroke="#111" stroke-width="1.0" />
<line x1="154.84" y1="282.10" x2="154.84" y2="284.10" stroke="#111" stroke-width="0.8" />
<text x="42.00" y="294.72" font-size="8.06" text-anchor="middle" fill="#111" textLength="4.23" lengthAdjust="spacingAndGlyphs" >0</text>
<text x="63.70" y="294.72" font-size="8.06" text-anchor="middle" fill="#111" textLength="13.52" lengthAdjust="spacingAndGlyphs" >50K</text>
<text x="85.40" y="294.72" font-size="8.06" text-anchor="middle" fill="#111" textLength="17.75" lengthAdjust="spacingAndGlyphs" >100K</text>
<text x="107.10" y="294.72" font-size="8.06" text-anchor="middle" fill="#111" textLength="17.75" lengthAdjust="spacingAndGlyphs" >150K</text>
<text x="128.80" y="294.72" font-size="8.06" text-anchor="middle" fill="#111" textLength="17.75" lengthAdjust="spacingAndGlyphs" >200K</text>
<text x="150.50" y="294.72" font-size="8.06" text-anchor="middle" fill="#111" textLength="17.75" lengthAdjust="spacingAndGlyphs" >250K</text>
<text x="39.60" y="305.20" font-size="8.48" text-anchor="start" fill="#111" textLength="45.2" lengthAdjust="spacingAndGlyphs" >DNA content</text>
<line x1="90.50" y1="303.20" x2="151.00" y2="303.20" stroke="#111" stroke-width="1.2" />
<path d="M150.3,300.1 L155.5,303.2 L150.3,306.3 Z" fill="#111"/>
<path d="M42.00,282.00 L59.00,282.00 L61.00,281.60 L62.30,280.50 L63.30,278.50 L64.50,274.00 L65.50,265.00 L66.60,250.00 L67.60,232.00 L68.60,210.00 L69.70,190.00 L70.50,180.00 L71.20,175.80 L71.90,178.50 L72.70,188.00 L73.90,210.00 L75.10,230.00 L76.10,243.00 L77.20,252.00 L78.20,256.00 L79.40,265.00 L80.30,271.00 L81.00,275.00 L82.00,278.00 L83.60,279.30 L86.00,279.40 L88.00,279.20 L90.00,279.00 L92.30,279.10 L95.00,279.80 L98.00,280.40 L101.00,281.00 L104.00,281.60 L107.00,282.00 L156.50,282.00" fill="none" stroke="#185593" stroke-width="1.4" stroke-linejoin="round"/>
<path d="M42.00,282.00 L60.00,282.00 L62.00,281.60 L63.50,280.50 L64.50,278.50 L65.50,274.00 L66.50,265.00 L67.50,250.00 L68.50,232.00 L69.30,210.00 L70.20,190.00 L70.80,180.00 L71.30,175.60 L71.90,178.50 L72.60,188.00 L73.70,210.00 L74.80,230.00 L75.80,243.00 L76.60,251.00 L77.30,255.00 L78.50,257.00 L80.70,258.80 L83.00,261.50 L85.00,264.20 L87.50,265.30 L90.00,264.80 L92.50,264.00 L94.50,264.30 L96.00,265.50 L97.30,267.50 L98.50,270.50 L100.00,274.50 L101.00,276.50 L102.30,278.80 L103.50,280.30 L106.00,281.00 L108.00,281.20 L111.00,281.50 L115.00,281.90 L120.00,282.00 L156.50,282.00" fill="none" stroke="#c50f30" stroke-width="1.5" stroke-linejoin="round"/>
<line x1="81.50" y1="188.60" x2="93.40" y2="188.60" stroke="#c50f30" stroke-width="1.5" />
<circle cx="87.4" cy="188.6" r="1.8" fill="#c50f30"/>
<line x1="81.50" y1="198.20" x2="93.40" y2="198.20" stroke="#185593" stroke-width="1.5" />
<circle cx="87.4" cy="198.2" r="1.8" fill="#185593"/>
<text x="96.30" y="191.36" font-size="8.48" text-anchor="start" fill="#111" textLength="23.5" lengthAdjust="spacingAndGlyphs" >DMSO</text>
<text x="96.30" y="200.96" font-size="8.48" text-anchor="start" fill="#111" textLength="35.3" lengthAdjust="spacingAndGlyphs" >Palbociclib</text>
<text x="185.80" y="165.30" font-size="10.9" text-anchor="start" fill="#000" font-weight="bold" >D</text>
<line x1="195.60" y1="266.70" x2="195.60" y2="181.00" stroke="#111" stroke-width="1.3" />
<path d="M192.4,182.1 L195.6,176.8 L198.8,182.1 Z" fill="#111"/>
<text x="198.60" y="276.20" font-size="9.43" text-anchor="middle" fill="#111" textLength="6.2" lengthAdjust="spacingAndGlyphs" transform="rotate(-90 198.60 276.20)" >PI</text>
<text x="232.50" y="309.67" font-size="9.43" text-anchor="start" fill="#111" textLength="33.2" lengthAdjust="spacingAndGlyphs" >Annexin V</text>
<line x1="274.50" y1="307.50" x2="470.00" y2="307.50" stroke="#111" stroke-width="1.2" />
<path d="M469.3,304.4 L474.6,307.5 L469.3,310.6 Z" fill="#111"/>
<g>
<path d="M231.50,254.50 L240.00,252.00 L247.00,249.50 L253.00,246.50 L256.50,243.50 L259.00,238.50 L262.50,230.00 L267.50,225.00 L273.75,217.50 L277.50,211.90 L283.75,203.75 L290.00,197.50 L295.00,193.75 L298.75,191.25 L303.75,191.90 L305.60,194.40 L303.10,198.75 L296.25,200.60 L292.50,203.10 L287.50,206.90 L281.25,211.90 L278.75,216.25 L276.90,221.25 L275.60,227.50 L274.40,235.00 L275.60,241.25 L279.40,248.00 L284.00,252.50 L287.00,256.00 L288.00,260.00 L285.50,264.50 L280.00,268.50 L273.00,272.00 L263.00,276.00 L252.00,277.80 L241.00,277.50 L231.50,275.00 Z" fill="#dadada" filter="url(#bl5)"/>
<path d="M231.50,258.50 L240.00,256.50 L248.00,254.00 L255.00,251.00 L259.50,247.00 L262.50,240.00 L264.50,232.00 L267.00,229.00 L269.50,231.00 L270.50,238.00 L271.50,245.00 L274.00,250.00 L279.00,254.50 L283.00,258.50 L283.50,262.50 L279.00,266.50 L271.00,270.00 L261.00,273.00 L250.00,274.50 L240.00,274.00 L231.50,271.50 Z" fill="#c4c4c4" filter="url(#bl5)"/>
<path d="M296.25,222.50 L298.10,219.40 L302.50,218.10 L307.50,220.00 L311.90,220.60 L315.00,222.50 L316.25,226.25 L315.00,231.25 L311.90,234.40 L307.50,235.60 L304.40,235.00 L302.50,231.90 L300.00,228.10 L296.90,226.25 Z" fill="#dadada" filter="url(#bl5)"/>
<ellipse cx="310.6" cy="228.5" rx="1.5" ry="1.2" fill="#cdcdcd"/>
<ellipse cx="259" cy="263" rx="21" ry="10.5" fill="#b4b4b4" filter="url(#bl2)"/>
<ellipse cx="261" cy="262" rx="15.5" ry="8.8" fill="#9a9a9a" filter="url(#bl3)"/>
<ellipse cx="261" cy="261.8" rx="12" ry="6.6" fill="#6e6e6e" filter="url(#bl3)"/>
<ellipse cx="261.3" cy="261.5" rx="8.5" ry="4.8" fill="#333" filter="url(#bl3)"/>
<ellipse cx="261.5" cy="261.3" rx="5" ry="2.8" fill="#111" filter="url(#bl)"/>
</g>
<rect x="231.70" y="171.0" width="111.00" height="112.0" fill="none" stroke="#111" stroke-width="1.35"/>
<line x1="292.30" y1="171.00" x2="292.30" y2="283.00" stroke="#111" stroke-width="1.4" />
<line x1="231.70" y1="203.00" x2="342.70" y2="203.00" stroke="#111" stroke-width="1.4" />
<text x="287.70" y="166.97" font-size="9.12" text-anchor="middle" fill="#111" textLength="24.5" lengthAdjust="spacingAndGlyphs" >DMSO</text>
<line x1="228.10" y1="181.60" x2="231.70" y2="181.60" stroke="#111" stroke-width="1.0" />
<text x="225.10" y="184.19" font-size="7.95" text-anchor="end" fill="#111" >1x10<tspan font-size="5" dy="-2.8">5</tspan></text>
<line x1="228.10" y1="206.30" x2="231.70" y2="206.30" stroke="#111" stroke-width="1.0" />
<text x="225.10" y="208.89" font-size="7.95" text-anchor="end" fill="#111" textLength="19.2" lengthAdjust="spacingAndGlyphs" >10000</text>
<line x1="228.10" y1="232.30" x2="231.70" y2="232.30" stroke="#111" stroke-width="1.0" />
<text x="225.10" y="234.89" font-size="7.95" text-anchor="end" fill="#111" textLength="15.1" lengthAdjust="spacingAndGlyphs" >1000</text>
<line x1="228.10" y1="259.20" x2="231.70" y2="259.20" stroke="#111" stroke-width="1.0" />
<text x="225.10" y="261.79" font-size="7.95" text-anchor="end" fill="#111" textLength="11.0" lengthAdjust="spacingAndGlyphs" >100</text>
<line x1="228.10" y1="271.90" x2="231.70" y2="271.90" stroke="#111" stroke-width="1.0" />
<text x="225.10" y="274.49" font-size="7.95" text-anchor="end" fill="#111" textLength="3.7" lengthAdjust="spacingAndGlyphs" >0</text>
<line x1="229.50" y1="251.10" x2="231.70" y2="251.10" stroke="#111" stroke-width="0.7" />
<line x1="229.50" y1="246.37" x2="231.70" y2="246.37" stroke="#111" stroke-width="0.7" />
<line x1="229.50" y1="243.00" x2="231.70" y2="243.00" stroke="#111" stroke-width="0.7" />
<line x1="229.50" y1="240.40" x2="231.70" y2="240.40" stroke="#111" stroke-width="0.7" />
<line x1="229.50" y1="238.27" x2="231.70" y2="238.27" stroke="#111" stroke-width="0.7" />
<line x1="229.50" y1="236.47" x2="231.70" y2="236.47" stroke="#111" stroke-width="0.7" />
<line x1="229.50" y1="234.91" x2="231.70" y2="234.91" stroke="#111" stroke-width="0.7" />
<line x1="229.50" y1="233.53" x2="231.70" y2="233.53" stroke="#111" stroke-width="0.7" />
<line x1="229.50" y1="224.47" x2="231.70" y2="224.47" stroke="#111" stroke-width="0.7" />
<line x1="229.50" y1="219.89" x2="231.70" y2="219.89" stroke="#111" stroke-width="0.7" />
<line x1="229.50" y1="216.65" x2="231.70" y2="216.65" stroke="#111" stroke-width="0.7" />
<line x1="229.50" y1="214.13" x2="231.70" y2="214.13" stroke="#111" stroke-width="0.7" />
<line x1="229.50" y1="212.07" x2="231.70" y2="212.07" stroke="#111" stroke-width="0.7" />
<line x1="229.50" y1="210.33" x2="231.70" y2="210.33" stroke="#111" stroke-width="0.7" />
<line x1="229.50" y1="208.82" x2="231.70" y2="208.82" stroke="#111" stroke-width="0.7" />
<line x1="229.50" y1="207.49" x2="231.70" y2="207.49" stroke="#111" stroke-width="0.7" />
<line x1="229.50" y1="198.38" x2="231.70" y2="198.38" stroke="#111" stroke-width="0.7" />
<line x1="229.50" y1="193.75" x2="231.70" y2="193.75" stroke="#111" stroke-width="0.7" />
<line x1="229.50" y1="190.47" x2="231.70" y2="190.47" stroke="#111" stroke-width="0.7" />
<line x1="229.50" y1="187.92" x2="231.70" y2="187.92" stroke="#111" stroke-width="0.7" />
<line x1="229.50" y1="185.83" x2="231.70" y2="185.83" stroke="#111" stroke-width="0.7" />
<line x1="229.50" y1="184.07" x2="231.70" y2="184.07" stroke="#111" stroke-width="0.7" />
<line x1="229.50" y1="182.55" x2="231.70" y2="182.55" stroke="#111" stroke-width="0.7" />
<line x1="229.50" y1="181.20" x2="231.70" y2="181.20" stroke="#111" stroke-width="0.7" />
<line x1="229.50" y1="263.50" x2="231.70" y2="263.50" stroke="#111" stroke-width="0.7" />
<line x1="229.50" y1="266.50" x2="231.70" y2="266.50" stroke="#111" stroke-width="0.7" />
<line x1="229.50" y1="268.80" x2="231.70" y2="268.80" stroke="#111" stroke-width="0.7" />
<line x1="229.50" y1="275.00" x2="231.70" y2="275.00" stroke="#111" stroke-width="0.7" />
<line x1="229.50" y1="277.50" x2="231.70" y2="277.50" stroke="#111" stroke-width="0.7" />
<line x1="229.50" y1="280.00" x2="231.70" y2="280.00" stroke="#111" stroke-width="0.7" />
<line x1="242.90" y1="283.00" x2="242.90" y2="286.20" stroke="#111" stroke-width="1.0" />
<text x="242.90" y="294.99" font-size="7.95" text-anchor="middle" fill="#111" textLength="3.8" lengthAdjust="spacingAndGlyphs" >0</text>
<line x1="255.40" y1="283.00" x2="255.40" y2="286.20" stroke="#111" stroke-width="1.0" />
<text x="255.40" y="294.99" font-size="7.95" text-anchor="middle" fill="#111" textLength="12.0" lengthAdjust="spacingAndGlyphs" >100</text>
<line x1="283.00" y1="283.00" x2="283.00" y2="286.20" stroke="#111" stroke-width="1.0" />
<text x="283.00" y="294.99" font-size="7.95" text-anchor="middle" fill="#111" textLength="15.6" lengthAdjust="spacingAndGlyphs" >1000</text>
<line x1="309.40" y1="283.00" x2="309.40" y2="286.20" stroke="#111" stroke-width="1.0" />
<text x="309.40" y="294.99" font-size="7.95" text-anchor="middle" fill="#111" textLength="19.6" lengthAdjust="spacingAndGlyphs" >10000</text>
<line x1="333.00" y1="283.00" x2="333.00" y2="286.20" stroke="#111" stroke-width="1.0" />
<text x="333.00" y="294.99" font-size="7.95" text-anchor="middle" fill="#111" >1x10<tspan font-size="5" dy="-2.8">5</tspan></text>
<line x1="233.20" y1="283.00" x2="233.20" y2="285.20" stroke="#111" stroke-width="0.7" />
<line x1="235.20" y1="283.00" x2="235.20" y2="285.20" stroke="#111" stroke-width="0.7" />
<line x1="237.20" y1="283.00" x2="237.20" y2="285.20" stroke="#111" stroke-width="0.7" />
<line x1="239.20" y1="283.00" x2="239.20" y2="285.20" stroke="#111" stroke-width="0.7" />
<line x1="241.20" y1="283.00" x2="241.20" y2="285.20" stroke="#111" stroke-width="0.7" />
<line x1="245.70" y1="283.00" x2="245.70" y2="285.20" stroke="#111" stroke-width="0.7" />
<line x1="248.20" y1="283.00" x2="248.20" y2="285.20" stroke="#111" stroke-width="0.7" />
<line x1="250.70" y1="283.00" x2="250.70" y2="285.20" stroke="#111" stroke-width="0.7" />
<line x1="252.70" y1="283.00" x2="252.70" y2="285.20" stroke="#111" stroke-width="0.7" />
<line x1="263.47" y1="283.00" x2="263.47" y2="285.20" stroke="#111" stroke-width="0.7" />
<line x1="268.19" y1="283.00" x2="268.19" y2="285.20" stroke="#111" stroke-width="0.7" />
<line x1="271.54" y1="283.00" x2="271.54" y2="285.20" stroke="#111" stroke-width="0.7" />
<line x1="274.13" y1="283.00" x2="274.13" y2="285.20" stroke="#111" stroke-width="0.7" />
<line x1="276.25" y1="283.00" x2="276.25" y2="285.20" stroke="#111" stroke-width="0.7" />
<line x1="278.05" y1="283.00" x2="278.05" y2="285.20" stroke="#111" stroke-width="0.7" />
<line x1="279.60" y1="283.00" x2="279.60" y2="285.20" stroke="#111" stroke-width="0.7" />
<line x1="280.97" y1="283.00" x2="280.97" y2="285.20" stroke="#111" stroke-width="0.7" />
<line x1="290.87" y1="283.00" x2="290.87" y2="285.20" stroke="#111" stroke-width="0.7" />
<line x1="295.94" y1="283.00" x2="295.94" y2="285.20" stroke="#111" stroke-width="0.7" />
<line x1="299.54" y1="283.00" x2="299.54" y2="285.20" stroke="#111" stroke-width="0.7" />
<line x1="302.33" y1="283.00" x2="302.33" y2="285.20" stroke="#111" stroke-width="0.7" />
<line x1="304.61" y1="283.00" x2="304.61" y2="285.20" stroke="#111" stroke-width="0.7" />
<line x1="306.54" y1="283.00" x2="306.54" y2="285.20" stroke="#111" stroke-width="0.7" />
<line x1="308.21" y1="283.00" x2="308.21" y2="285.20" stroke="#111" stroke-width="0.7" />
<line x1="309.68" y1="283.00" x2="309.68" y2="285.20" stroke="#111" stroke-width="0.7" />
<line x1="319.19" y1="283.00" x2="319.19" y2="285.20" stroke="#111" stroke-width="0.7" />
<line x1="323.98" y1="283.00" x2="323.98" y2="285.20" stroke="#111" stroke-width="0.7" />
<line x1="327.38" y1="283.00" x2="327.38" y2="285.20" stroke="#111" stroke-width="0.7" />
<line x1="330.01" y1="283.00" x2="330.01" y2="285.20" stroke="#111" stroke-width="0.7" />
<line x1="332.17" y1="283.00" x2="332.17" y2="285.20" stroke="#111" stroke-width="0.7" />
<line x1="333.99" y1="283.00" x2="333.99" y2="285.20" stroke="#111" stroke-width="0.7" />
<line x1="335.56" y1="283.00" x2="335.56" y2="285.20" stroke="#111" stroke-width="0.7" />
<line x1="336.96" y1="283.00" x2="336.96" y2="285.20" stroke="#111" stroke-width="0.7" />
<text x="240.20" y="181.83" font-size="8.69" text-anchor="middle" fill="#111" textLength="4.56" lengthAdjust="spacingAndGlyphs" >0</text>
<text x="333.00" y="181.83" font-size="8.69" text-anchor="middle" fill="#111" textLength="4.56" lengthAdjust="spacingAndGlyphs" >1</text>
<text x="242.20" y="278.43" font-size="8.69" text-anchor="middle" fill="#111" textLength="9.12" lengthAdjust="spacingAndGlyphs" >98</text>
<text x="333.00" y="278.43" font-size="8.69" text-anchor="middle" fill="#111" textLength="4.56" lengthAdjust="spacingAndGlyphs" >1</text>
<g>
<path d="M387.80,252.50 L391.50,247.80 L397.90,244.60 L403.20,240.90 L407.90,237.70 L409.50,231.00 L411.50,225.00 L413.20,219.00 L416.30,210.50 L419.50,205.00 L422.70,201.00 L426.00,196.00 L429.00,192.50 L435.40,190.40 L440.70,190.90 L444.90,193.00 L452.30,195.70 L455.50,200.00 L456.60,209.50 L459.20,217.90 L459.70,227.40 L458.10,235.90 L454.40,242.30 L448.10,245.40 L443.90,246.20 L438.00,244.00 L431.00,241.00 L426.00,240.50 L424.30,241.00 L423.30,246.20 L421.20,255.70 L415.90,258.90 L408.50,263.10 L401.00,267.30 L393.60,268.40 L389.40,267.30 L389.90,259.90 L387.80,256.70 Z" fill="#d6d6d6" filter="url(#bl5)"/>
<path d="M427.50,240.00 L429.00,228.00 L430.50,214.00 L432.00,204.00 L434.00,197.00 L440.00,194.00 L448.00,197.00 L453.00,202.00 L455.50,212.00 L457.50,224.00 L456.50,235.00 L452.00,241.50 L445.00,243.50 L437.00,242.00 L431.00,240.50 Z" fill="#b8b8b8" filter="url(#bl3)"/>
<path d="M416.90,233.80 L420.60,223.20 L425.90,210.50 L429.60,206.80 L430.10,209.50 L428.00,217.90 L424.80,227.40 L421.60,234.90 L418.50,235.40 Z" fill="#ffffff" filter="url(#bl5)"/>
<ellipse cx="431.5" cy="196.5" rx="4" ry="3" fill="#a5a5a5" filter="url(#bl3)"/>
<ellipse cx="441" cy="222" rx="9" ry="14" fill="#9c9c9c" filter="url(#bl2)"/>
<ellipse cx="446.8" cy="226.5" rx="7" ry="9" fill="#5a5a5a" filter="url(#bl2)"/>
<ellipse cx="447" cy="226.5" rx="3.8" ry="5" fill="#333" filter="url(#bl3)"/>
<path d="M391,262 L396,250 L404,244 L413,241 L421,243 L420,252 L412,259 L401,265 L393,266 Z" fill="#bdbdbd" filter="url(#bl3)"/>
<ellipse cx="409" cy="249.5" rx="12" ry="7.5" fill="#6a6a6a" filter="url(#bl2)" transform="rotate(-25 409 249.5)"/>
<ellipse cx="409" cy="249.3" rx="7.4" ry="4.6" fill="#222" filter="url(#bl3)" transform="rotate(-25 409 249.3)"/>
<ellipse cx="409" cy="249.3" rx="4.5" ry="2.6" fill="#111" filter="url(#bl)" transform="rotate(-25 409 249.3)"/>
</g>
<rect x="380.30" y="171.0" width="111.00" height="112.0" fill="none" stroke="#111" stroke-width="1.35"/>
<line x1="441.90" y1="171.00" x2="441.90" y2="283.00" stroke="#111" stroke-width="1.4" />
<line x1="380.30" y1="203.00" x2="491.30" y2="203.00" stroke="#111" stroke-width="1.4" />
<text x="436.30" y="166.97" font-size="9.12" text-anchor="middle" fill="#111" textLength="39.5" lengthAdjust="spacingAndGlyphs" >Palbociclib</text>
<line x1="376.70" y1="181.60" x2="380.30" y2="181.60" stroke="#111" stroke-width="1.0" />
<text x="373.70" y="184.19" font-size="7.95" text-anchor="end" fill="#111" >1x10<tspan font-size="5" dy="-2.8">5</tspan></text>
<line x1="376.70" y1="206.30" x2="380.30" y2="206.30" stroke="#111" stroke-width="1.0" />
<text x="373.70" y="208.89" font-size="7.95" text-anchor="end" fill="#111" textLength="19.2" lengthAdjust="spacingAndGlyphs" >10000</text>
<line x1="376.70" y1="232.30" x2="380.30" y2="232.30" stroke="#111" stroke-width="1.0" />
<text x="373.70" y="234.89" font-size="7.95" text-anchor="end" fill="#111" textLength="15.1" lengthAdjust="spacingAndGlyphs" >1000</text>
<line x1="376.70" y1="259.20" x2="380.30" y2="259.20" stroke="#111" stroke-width="1.0" />
<text x="373.70" y="261.79" font-size="7.95" text-anchor="end" fill="#111" textLength="11.0" lengthAdjust="spacingAndGlyphs" >100</text>
<line x1="376.70" y1="271.90" x2="380.30" y2="271.90" stroke="#111" stroke-width="1.0" />
<text x="373.70" y="274.49" font-size="7.95" text-anchor="end" fill="#111" textLength="3.7" lengthAdjust="spacingAndGlyphs" >0</text>
<line x1="378.10" y1="251.10" x2="380.30" y2="251.10" stroke="#111" stroke-width="0.7" />
<line x1="378.10" y1="246.37" x2="380.30" y2="246.37" stroke="#111" stroke-width="0.7" />
<line x1="378.10" y1="243.00" x2="380.30" y2="243.00" stroke="#111" stroke-width="0.7" />
<line x1="378.10" y1="240.40" x2="380.30" y2="240.40" stroke="#111" stroke-width="0.7" />
<line x1="378.10" y1="238.27" x2="380.30" y2="238.27" stroke="#111" stroke-width="0.7" />
<line x1="378.10" y1="236.47" x2="380.30" y2="236.47" stroke="#111" stroke-width="0.7" />
<line x1="378.10" y1="234.91" x2="380.30" y2="234.91" stroke="#111" stroke-width="0.7" />
<line x1="378.10" y1="233.53" x2="380.30" y2="233.53" stroke="#111" stroke-width="0.7" />
<line x1="378.10" y1="224.47" x2="380.30" y2="224.47" stroke="#111" stroke-width="0.7" />
<line x1="378.10" y1="219.89" x2="380.30" y2="219.89" stroke="#111" stroke-width="0.7" />
<line x1="378.10" y1="216.65" x2="380.30" y2="216.65" stroke="#111" stroke-width="0.7" />
<line x1="378.10" y1="214.13" x2="380.30" y2="214.13" stroke="#111" stroke-width="0.7" />
<line x1="378.10" y1="212.07" x2="380.30" y2="212.07" stroke="#111" stroke-width="0.7" />
<line x1="378.10" y1="210.33" x2="380.30" y2="210.33" stroke="#111" stroke-width="0.7" />
<line x1="378.10" y1="208.82" x2="380.30" y2="208.82" stroke="#111" stroke-width="0.7" />
<line x1="378.10" y1="207.49" x2="380.30" y2="207.49" stroke="#111" stroke-width="0.7" />
<line x1="378.10" y1="198.38" x2="380.30" y2="198.38" stroke="#111" stroke-width="0.7" />
<line x1="378.10" y1="193.75" x2="380.30" y2="193.75" stroke="#111" stroke-width="0.7" />
<line x1="378.10" y1="190.47" x2="380.30" y2="190.47" stroke="#111" stroke-width="0.7" />
<line x1="378.10" y1="187.92" x2="380.30" y2="187.92" stroke="#111" stroke-width="0.7" />
<line x1="378.10" y1="185.83" x2="380.30" y2="185.83" stroke="#111" stroke-width="0.7" />
<line x1="378.10" y1="184.07" x2="380.30" y2="184.07" stroke="#111" stroke-width="0.7" />
<line x1="378.10" y1="182.55" x2="380.30" y2="182.55" stroke="#111" stroke-width="0.7" />
<line x1="378.10" y1="181.20" x2="380.30" y2="181.20" stroke="#111" stroke-width="0.7" />
<line x1="378.10" y1="263.50" x2="380.30" y2="263.50" stroke="#111" stroke-width="0.7" />
<line x1="378.10" y1="266.50" x2="380.30" y2="266.50" stroke="#111" stroke-width="0.7" />
<line x1="378.10" y1="268.80" x2="380.30" y2="268.80" stroke="#111" stroke-width="0.7" />
<line x1="378.10" y1="275.00" x2="380.30" y2="275.00" stroke="#111" stroke-width="0.7" />
<line x1="378.10" y1="277.50" x2="380.30" y2="277.50" stroke="#111" stroke-width="0.7" />
<line x1="378.10" y1="280.00" x2="380.30" y2="280.00" stroke="#111" stroke-width="0.7" />
<line x1="391.50" y1="283.00" x2="391.50" y2="286.20" stroke="#111" stroke-width="1.0" />
<text x="391.50" y="294.99" font-size="7.95" text-anchor="middle" fill="#111" textLength="3.8" lengthAdjust="spacingAndGlyphs" >0</text>
<line x1="404.00" y1="283.00" x2="404.00" y2="286.20" stroke="#111" stroke-width="1.0" />
<text x="404.00" y="294.99" font-size="7.95" text-anchor="middle" fill="#111" textLength="12.0" lengthAdjust="spacingAndGlyphs" >100</text>
<line x1="431.60" y1="283.00" x2="431.60" y2="286.20" stroke="#111" stroke-width="1.0" />
<text x="431.60" y="294.99" font-size="7.95" text-anchor="middle" fill="#111" textLength="15.6" lengthAdjust="spacingAndGlyphs" >1000</text>
<line x1="458.00" y1="283.00" x2="458.00" y2="286.20" stroke="#111" stroke-width="1.0" />
<text x="458.00" y="294.99" font-size="7.95" text-anchor="middle" fill="#111" textLength="19.6" lengthAdjust="spacingAndGlyphs" >10000</text>
<line x1="481.60" y1="283.00" x2="481.60" y2="286.20" stroke="#111" stroke-width="1.0" />
<text x="481.60" y="294.99" font-size="7.95" text-anchor="middle" fill="#111" >1x10<tspan font-size="5" dy="-2.8">5</tspan></text>
<line x1="381.80" y1="283.00" x2="381.80" y2="285.20" stroke="#111" stroke-width="0.7" />
<line x1="383.80" y1="283.00" x2="383.80" y2="285.20" stroke="#111" stroke-width="0.7" />
<line x1="385.80" y1="283.00" x2="385.80" y2="285.20" stroke="#111" stroke-width="0.7" />
<line x1="387.80" y1="283.00" x2="387.80" y2="285.20" stroke="#111" stroke-width="0.7" />
<line x1="389.80" y1="283.00" x2="389.80" y2="285.20" stroke="#111" stroke-width="0.7" />
<line x1="394.30" y1="283.00" x2="394.30" y2="285.20" stroke="#111" stroke-width="0.7" />
<line x1="396.80" y1="283.00" x2="396.80" y2="285.20" stroke="#111" stroke-width="0.7" />
<line x1="399.30" y1="283.00" x2="399.30" y2="285.20" stroke="#111" stroke-width="0.7" />
<line x1="401.30" y1="283.00" x2="401.30" y2="285.20" stroke="#111" stroke-width="0.7" />
<line x1="412.07" y1="283.00" x2="412.07" y2="285.20" stroke="#111" stroke-width="0.7" />
<line x1="416.79" y1="283.00" x2="416.79" y2="285.20" stroke="#111" stroke-width="0.7" />
<line x1="420.14" y1="283.00" x2="420.14" y2="285.20" stroke="#111" stroke-width="0.7" />
<line x1="422.73" y1="283.00" x2="422.73" y2="285.20" stroke="#111" stroke-width="0.7" />
<line x1="424.85" y1="283.00" x2="424.85" y2="285.20" stroke="#111" stroke-width="0.7" />
<line x1="426.65" y1="283.00" x2="426.65" y2="285.20" stroke="#111" stroke-width="0.7" />
<line x1="428.20" y1="283.00" x2="428.20" y2="285.20" stroke="#111" stroke-width="0.7" />
<line x1="429.57" y1="283.00" x2="429.57" y2="285.20" stroke="#111" stroke-width="0.7" />
<line x1="439.47" y1="283.00" x2="439.47" y2="285.20" stroke="#111" stroke-width="0.7" />
<line x1="444.54" y1="283.00" x2="444.54" y2="285.20" stroke="#111" stroke-width="0.7" />
<line x1="448.14" y1="283.00" x2="448.14" y2="285.20" stroke="#111" stroke-width="0.7" />
<line x1="450.93" y1="283.00" x2="450.93" y2="285.20" stroke="#111" stroke-width="0.7" />
<line x1="453.21" y1="283.00" x2="453.21" y2="285.20" stroke="#111" stroke-width="0.7" />
<line x1="455.14" y1="283.00" x2="455.14" y2="285.20" stroke="#111" stroke-width="0.7" />
<line x1="456.81" y1="283.00" x2="456.81" y2="285.20" stroke="#111" stroke-width="0.7" />
<line x1="458.28" y1="283.00" x2="458.28" y2="285.20" stroke="#111" stroke-width="0.7" />
<line x1="467.79" y1="283.00" x2="467.79" y2="285.20" stroke="#111" stroke-width="0.7" />
<line x1="472.58" y1="283.00" x2="472.58" y2="285.20" stroke="#111" stroke-width="0.7" />
<line x1="475.98" y1="283.00" x2="475.98" y2="285.20" stroke="#111" stroke-width="0.7" />
<line x1="478.61" y1="283.00" x2="478.61" y2="285.20" stroke="#111" stroke-width="0.7" />
<line x1="480.77" y1="283.00" x2="480.77" y2="285.20" stroke="#111" stroke-width="0.7" />
<line x1="482.59" y1="283.00" x2="482.59" y2="285.20" stroke="#111" stroke-width="0.7" />
<line x1="484.16" y1="283.00" x2="484.16" y2="285.20" stroke="#111" stroke-width="0.7" />
<line x1="485.56" y1="283.00" x2="485.56" y2="285.20" stroke="#111" stroke-width="0.7" />
<text x="388.60" y="181.83" font-size="8.69" text-anchor="middle" fill="#111" textLength="4.56" lengthAdjust="spacingAndGlyphs" >1</text>
<text x="479.40" y="181.83" font-size="8.69" text-anchor="middle" fill="#111" textLength="4.56" lengthAdjust="spacingAndGlyphs" >4</text>
<text x="391.70" y="275.33" font-size="8.69" text-anchor="middle" fill="#111" textLength="9.12" lengthAdjust="spacingAndGlyphs" >53</text>
<text x="482.20" y="275.33" font-size="8.69" text-anchor="middle" fill="#111" textLength="9.12" lengthAdjust="spacingAndGlyphs" >42</text>
<text x="7.60" y="331.00" font-size="10.9" text-anchor="start" fill="#000" font-weight="bold" >E</text>
<line x1="58.20" y1="348.70" x2="58.20" y2="420.10" stroke="#111" stroke-width="1.3" />
<line x1="57.60" y1="419.50" x2="143.80" y2="419.50" stroke="#111" stroke-width="1.3" />
<line x1="55.00" y1="419.50" x2="58.20" y2="419.50" stroke="#111" stroke-width="1.0" />
<text x="52.00" y="422.19" font-size="8.27" text-anchor="end" fill="#111" textLength="4.34" lengthAdjust="spacingAndGlyphs" >0</text>
<line x1="55.00" y1="406.05" x2="58.20" y2="406.05" stroke="#111" stroke-width="1.0" />
<text x="52.00" y="408.74" font-size="8.27" text-anchor="end" fill="#111" textLength="8.68" lengthAdjust="spacingAndGlyphs" >20</text>
<line x1="55.00" y1="392.60" x2="58.20" y2="392.60" stroke="#111" stroke-width="1.0" />
<text x="52.00" y="395.29" font-size="8.27" text-anchor="end" fill="#111" textLength="8.68" lengthAdjust="spacingAndGlyphs" >40</text>
<line x1="55.00" y1="379.15" x2="58.20" y2="379.15" stroke="#111" stroke-width="1.0" />
<text x="52.00" y="381.84" font-size="8.27" text-anchor="end" fill="#111" textLength="8.68" lengthAdjust="spacingAndGlyphs" >60</text>
<line x1="55.00" y1="365.70" x2="58.20" y2="365.70" stroke="#111" stroke-width="1.0" />
<text x="52.00" y="368.39" font-size="8.27" text-anchor="end" fill="#111" textLength="8.68" lengthAdjust="spacingAndGlyphs" >80</text>
<line x1="55.00" y1="352.25" x2="58.20" y2="352.25" stroke="#111" stroke-width="1.0" />
<text x="52.00" y="354.94" font-size="8.27" text-anchor="end" fill="#111" textLength="13.01" lengthAdjust="spacingAndGlyphs" >100</text>
<line x1="58.20" y1="419.50" x2="58.20" y2="422.50" stroke="#111" stroke-width="1.0" />
<text x="58.20" y="431.89" font-size="8.27" text-anchor="middle" fill="#111" textLength="4.34" lengthAdjust="spacingAndGlyphs" >0</text>
<line x1="79.60" y1="419.50" x2="79.60" y2="422.50" stroke="#111" stroke-width="1.0" />
<text x="79.60" y="431.89" font-size="8.27" text-anchor="middle" fill="#111" textLength="4.34" lengthAdjust="spacingAndGlyphs" >1</text>
<line x1="100.90" y1="419.50" x2="100.90" y2="422.50" stroke="#111" stroke-width="1.0" />
<text x="100.90" y="431.89" font-size="8.27" text-anchor="middle" fill="#111" textLength="4.34" lengthAdjust="spacingAndGlyphs" >2</text>
<line x1="121.90" y1="419.50" x2="121.90" y2="422.50" stroke="#111" stroke-width="1.0" />
<text x="121.90" y="431.89" font-size="8.27" text-anchor="middle" fill="#111" textLength="4.34" lengthAdjust="spacingAndGlyphs" >3</text>
<line x1="143.10" y1="419.50" x2="143.10" y2="422.50" stroke="#111" stroke-width="1.0" />
<text x="143.10" y="431.89" font-size="8.27" text-anchor="middle" fill="#111" textLength="4.34" lengthAdjust="spacingAndGlyphs" >4</text>
<text x="55.40" y="444.00" font-size="9.22" text-anchor="start" fill="#111" textLength="91.6" lengthAdjust="spacingAndGlyphs" >Palbociclib treatment (days)</text>
<text x="21.90" y="384.80" font-size="9.22" text-anchor="middle" fill="#111" textLength="66.8" lengthAdjust="spacingAndGlyphs" transform="rotate(-90 21.90 384.80)" >% of apoptotic cells</text>
<text x="33.90" y="384.50" font-size="9.22" text-anchor="middle" fill="#111" textLength="75.0" lengthAdjust="spacingAndGlyphs" transform="rotate(-90 33.90 384.50)" >PI(–)AnnexinV(+)/PI(–)</text>
<line x1="143.10" y1="371.08" x2="143.10" y2="387.89" stroke="#185593" stroke-width="1.0" />
<line x1="141.30" y1="371.08" x2="144.90" y2="371.08" stroke="#185593" stroke-width="1.0" />
<line x1="141.30" y1="387.89" x2="144.90" y2="387.89" stroke="#185593" stroke-width="1.0" />
<path d="M58.20,418.96 L79.60,418.69 L100.90,415.80 L121.90,409.75 L143.10,379.49" fill="none" stroke="#185593" stroke-width="1.3"/>
<circle cx="58.20" cy="418.96" r="2.0" fill="#185593"/>
<circle cx="79.60" cy="418.69" r="2.0" fill="#185593"/>
<circle cx="100.90" cy="415.80" r="2.0" fill="#185593"/>
<circle cx="121.90" cy="409.75" r="2.0" fill="#185593"/>
<circle cx="143.10" cy="379.49" r="2.0" fill="#185593"/>
<path d="M58.20,418.70 L79.60,418.70 L100.90,418.70 L121.90,418.70 L143.10,418.70" fill="none" stroke="#c50f30" stroke-width="1.7"/>
<circle cx="58.20" cy="418.70" r="2.0" fill="#c50f30"/>
<circle cx="79.60" cy="418.70" r="2.0" fill="#c50f30"/>
<circle cx="100.90" cy="418.70" r="2.0" fill="#c50f30"/>
<circle cx="121.90" cy="418.70" r="2.0" fill="#c50f30"/>
<circle cx="143.10" cy="418.70" r="2.0" fill="#c50f30"/>
<line x1="76.10" y1="357.00" x2="87.40" y2="357.00" stroke="#c50f30" stroke-width="1.5" />
<circle cx="81.7" cy="357.0" r="1.9" fill="#c50f30"/>
<line x1="76.10" y1="366.60" x2="87.40" y2="366.60" stroke="#185593" stroke-width="1.5" />
<circle cx="81.7" cy="366.6" r="1.9" fill="#185593"/>
<text x="90.80" y="359.36" font-size="8.48" text-anchor="start" fill="#111" textLength="23.5" lengthAdjust="spacingAndGlyphs" >DMSO</text>
<text x="90.80" y="369.76" font-size="8.48" text-anchor="start" fill="#111" textLength="35.3" lengthAdjust="spacingAndGlyphs" >Palbociclib</text>
<text x="185.60" y="332.10" font-size="10.9" text-anchor="start" fill="#000" font-weight="bold" >F</text>
<text x="253.30" y="333.96" font-size="8.48" text-anchor="middle" fill="#111" ><tspan font-style="italic">p</tspan>=0.058</text>
<line x1="218.20" y1="337.60" x2="218.20" y2="420.20" stroke="#111" stroke-width="1.3" />
<line x1="217.60" y1="419.60" x2="286.70" y2="419.60" stroke="#111" stroke-width="1.3" />
<line x1="215.00" y1="419.60" x2="218.20" y2="419.60" stroke="#111" stroke-width="1.0" />
<text x="213.20" y="422.29" font-size="8.27" text-anchor="end" fill="#111" textLength="4.34" lengthAdjust="spacingAndGlyphs" >0</text>
<line x1="215.00" y1="408.23" x2="218.20" y2="408.23" stroke="#111" stroke-width="1.0" />
<text x="213.20" y="410.92" font-size="8.27" text-anchor="end" fill="#111" textLength="4.34" lengthAdjust="spacingAndGlyphs" >1</text>
<line x1="215.00" y1="396.86" x2="218.20" y2="396.86" stroke="#111" stroke-width="1.0" />
<text x="213.20" y="399.55" font-size="8.27" text-anchor="end" fill="#111" textLength="4.34" lengthAdjust="spacingAndGlyphs" >2</text>
<line x1="215.00" y1="385.49" x2="218.20" y2="385.49" stroke="#111" stroke-width="1.0" />
<text x="213.20" y="388.18" font-size="8.27" text-anchor="end" fill="#111" textLength="4.34" lengthAdjust="spacingAndGlyphs" >3</text>
<line x1="215.00" y1="374.12" x2="218.20" y2="374.12" stroke="#111" stroke-width="1.0" />
<text x="213.20" y="376.81" font-size="8.27" text-anchor="end" fill="#111" textLength="4.34" lengthAdjust="spacingAndGlyphs" >4</text>
<line x1="215.00" y1="362.75" x2="218.20" y2="362.75" stroke="#111" stroke-width="1.0" />
<text x="213.20" y="365.44" font-size="8.27" text-anchor="end" fill="#111" textLength="4.34" lengthAdjust="spacingAndGlyphs" >5</text>
<line x1="215.00" y1="351.38" x2="218.20" y2="351.38" stroke="#111" stroke-width="1.0" />
<text x="213.20" y="354.07" font-size="8.27" text-anchor="end" fill="#111" textLength="4.34" lengthAdjust="spacingAndGlyphs" >6</text>
<line x1="215.00" y1="340.01" x2="218.20" y2="340.01" stroke="#111" stroke-width="1.0" />
<text x="213.20" y="342.70" font-size="8.27" text-anchor="end" fill="#111" textLength="4.34" lengthAdjust="spacingAndGlyphs" >7</text>
<line x1="235.80" y1="419.60" x2="235.80" y2="422.60" stroke="#111" stroke-width="1.0" />
<line x1="269.60" y1="419.60" x2="269.60" y2="422.60" stroke="#111" stroke-width="1.0" />
<text x="235.80" y="432.23" font-size="8.69" text-anchor="middle" fill="#111" textLength="26.0" lengthAdjust="spacingAndGlyphs" >Altered</text>
<text x="235.80" y="441.73" font-size="8.69" text-anchor="middle" fill="#111" textLength="19.6" lengthAdjust="spacingAndGlyphs" >TP53</text>
<text x="269.60" y="432.23" font-size="8.69" text-anchor="middle" fill="#111" textLength="20.05" lengthAdjust="spacingAndGlyphs" >Intact</text>
<text x="269.60" y="441.73" font-size="8.69" text-anchor="middle" fill="#111" textLength="19.6" lengthAdjust="spacingAndGlyphs" >TP53</text>
<text x="200.10" y="377.30" font-size="9.22" text-anchor="middle" fill="#111" textLength="73.3" lengthAdjust="spacingAndGlyphs" transform="rotate(-90 200.10 377.30)" >Palbociclib IC50 (µM)</text>
<line x1="235.80" y1="383.00" x2="235.80" y2="402.60" stroke="#c50f30" stroke-width="1.0" />
<line x1="231.60" y1="383.00" x2="240.00" y2="383.00" stroke="#c50f30" stroke-width="1.0" />
<line x1="231.60" y1="402.60" x2="240.00" y2="402.60" stroke="#c50f30" stroke-width="1.0" />
<line x1="230.00" y1="392.70" x2="241.60" y2="392.70" stroke="#c50f30" stroke-width="1.1" />
<circle cx="235.4" cy="345.8" r="2.1" fill="#c50f30"/>
<circle cx="230.2" cy="386.5" r="2.1" fill="#c50f30"/>
<circle cx="240.5" cy="382.6" r="2.1" fill="#c50f30"/>
<circle cx="240.5" cy="387.8" r="2.1" fill="#c50f30"/>
<circle cx="235.8" cy="408.4" r="2.1" fill="#c50f30"/>
<circle cx="230.2" cy="419.2" r="2.1" fill="#c50f30"/>
<circle cx="240.5" cy="418.2" r="2.1" fill="#c50f30"/>
<line x1="269.60" y1="407.60" x2="269.60" y2="415.40" stroke="#185593" stroke-width="1.0" />
<line x1="265.40" y1="407.60" x2="273.80" y2="407.60" stroke="#185593" stroke-width="1.0" />
<line x1="265.40" y1="415.40" x2="273.80" y2="415.40" stroke="#185593" stroke-width="1.0" />
<line x1="264.20" y1="410.90" x2="275.80" y2="410.90" stroke="#185593" stroke-width="1.1" />
<path d="M267.3,399.1 L271.90000000000003,399.1 L269.6,402.7 Z" fill="#185593"/>
<path d="M262.3,416.2 L266.90000000000003,416.2 L264.6,419.79999999999995 Z" fill="#185593"/>
<path d="M272.5,412.7 L277.1,412.7 L274.8,416.29999999999995 Z" fill="#185593"/>
<line x1="239.20" y1="345.80" x2="271.30" y2="345.80" stroke="#111" stroke-width="1.0" />
<line x1="243.80" y1="380.40" x2="271.90" y2="358.50" stroke="#111" stroke-width="1.0" />
<line x1="244.40" y1="387.30" x2="271.90" y2="370.00" stroke="#111" stroke-width="1.0" />
<line x1="239.60" y1="406.90" x2="271.90" y2="381.50" stroke="#111" stroke-width="1.0" />
<line x1="279.00" y1="411.70" x2="287.30" y2="403.70" stroke="#111" stroke-width="1.0" />
<text x="275.80" y="348.56" font-size="8.48" text-anchor="start" fill="#111" textLength="13.8" lengthAdjust="spacingAndGlyphs" >MT1</text>
<text x="275.80" y="361.56" font-size="8.48" text-anchor="start" fill="#111" textLength="37.2" lengthAdjust="spacingAndGlyphs" >ED40515(–)</text>
<text x="275.80" y="372.36" font-size="8.48" text-anchor="start" fill="#111" textLength="12.8" lengthAdjust="spacingAndGlyphs" >KK1</text>
<text x="275.80" y="383.76" font-size="8.48" text-anchor="start" fill="#111" textLength="23.4" lengthAdjust="spacingAndGlyphs" >Su9T01</text>
<text x="288.70" y="401.96" font-size="8.48" text-anchor="start" fill="#111" textLength="10.9" lengthAdjust="spacingAndGlyphs" >ST1</text>
<text x="7.20" y="467.40" font-size="10.9" text-anchor="start" fill="#000" font-weight="bold" >G</text>
<text x="22.70" y="533.10" font-size="9.22" text-anchor="middle" fill="#111" textLength="90.8" lengthAdjust="spacingAndGlyphs" transform="rotate(-90 22.70 533.10)" >Relative viability (vs DMSO)</text>
<text x="249.20" y="619.94" font-size="9.33" text-anchor="start" fill="#111" textLength="55.4" lengthAdjust="spacingAndGlyphs" >Palbociclib (µM)</text>
<line x1="45.50" y1="491.20" x2="45.50" y2="573.40" stroke="#111" stroke-width="1.3" />
<line x1="44.90" y1="572.80" x2="155.40" y2="572.80" stroke="#111" stroke-width="1.3" />
<line x1="42.30" y1="494.80" x2="45.50" y2="494.80" stroke="#111" stroke-width="1.0" />
<text x="42.10" y="497.49" font-size="8.27" text-anchor="end" fill="#111" textLength="10.6" lengthAdjust="spacingAndGlyphs" >1.0</text>
<line x1="42.30" y1="533.80" x2="45.50" y2="533.80" stroke="#111" stroke-width="1.0" />
<text x="42.10" y="536.49" font-size="8.27" text-anchor="end" fill="#111" textLength="10.6" lengthAdjust="spacingAndGlyphs" >0.5</text>
<line x1="42.30" y1="572.80" x2="45.50" y2="572.80" stroke="#111" stroke-width="1.0" />
<text x="42.10" y="575.49" font-size="8.27" text-anchor="end" fill="#111" textLength="10.6" lengthAdjust="spacingAndGlyphs" >0.0</text>
<line x1="50.80" y1="572.80" x2="50.80" y2="575.60" stroke="#111" stroke-width="1.0" />
<text x="55.40" y="582.00" font-size="8.69" text-anchor="end" fill="#111" textLength="23.37" lengthAdjust="spacingAndGlyphs" transform="rotate(-45 55.40 582.00)" >DMSO</text>
<line x1="62.04" y1="572.80" x2="62.04" y2="575.60" stroke="#111" stroke-width="1.0" />
<text x="66.64" y="582.00" font-size="8.69" text-anchor="end" fill="#111" textLength="36.82" lengthAdjust="spacingAndGlyphs" transform="rotate(-45 66.64 582.00)" >0.0390625</text>
<line x1="73.28" y1="572.80" x2="73.28" y2="575.60" stroke="#111" stroke-width="1.0" />
<text x="77.88" y="582.00" font-size="8.69" text-anchor="end" fill="#111" textLength="32.49" lengthAdjust="spacingAndGlyphs" transform="rotate(-45 77.88 582.00)" >0.078125</text>
<line x1="84.52" y1="572.80" x2="84.52" y2="575.60" stroke="#111" stroke-width="1.0" />
<text x="89.12" y="582.00" font-size="8.69" text-anchor="end" fill="#111" textLength="28.16" lengthAdjust="spacingAndGlyphs" transform="rotate(-45 89.12 582.00)" >0.15625</text>
<line x1="95.76" y1="572.80" x2="95.76" y2="575.60" stroke="#111" stroke-width="1.0" />
<text x="100.36" y="582.00" font-size="8.69" text-anchor="end" fill="#111" textLength="23.82" lengthAdjust="spacingAndGlyphs" transform="rotate(-45 100.36 582.00)" >0.3125</text>
<line x1="107.00" y1="572.80" x2="107.00" y2="575.60" stroke="#111" stroke-width="1.0" />
<text x="111.60" y="582.00" font-size="8.69" text-anchor="end" fill="#111" textLength="19.49" lengthAdjust="spacingAndGlyphs" transform="rotate(-45 111.60 582.00)" >0.625</text>
<line x1="118.24" y1="572.80" x2="118.24" y2="575.60" stroke="#111" stroke-width="1.0" />
<text x="122.84" y="582.00" font-size="8.69" text-anchor="end" fill="#111" textLength="15.16" lengthAdjust="spacingAndGlyphs" transform="rotate(-45 122.84 582.00)" >1.25</text>
<line x1="129.48" y1="572.80" x2="129.48" y2="575.60" stroke="#111" stroke-width="1.0" />
<text x="134.08" y="582.00" font-size="8.69" text-anchor="end" fill="#111" textLength="10.83" lengthAdjust="spacingAndGlyphs" transform="rotate(-45 134.08 582.00)" >2.5</text>
<line x1="140.72" y1="572.80" x2="140.72" y2="575.60" stroke="#111" stroke-width="1.0" />
<text x="145.32" y="582.00" font-size="8.69" text-anchor="end" fill="#111" textLength="4.33" lengthAdjust="spacingAndGlyphs" transform="rotate(-45 145.32 582.00)" >5</text>
<line x1="151.96" y1="572.80" x2="151.96" y2="575.60" stroke="#111" stroke-width="1.0" />
<text x="156.56" y="582.00" font-size="8.69" text-anchor="end" fill="#111" textLength="8.66" lengthAdjust="spacingAndGlyphs" transform="rotate(-45 156.56 582.00)" >10</text>
<text x="100.00" y="467.23" font-size="8.69" text-anchor="middle" fill="#111" textLength="15.5" lengthAdjust="spacingAndGlyphs" >KK1</text>
<text x="100.00" y="477.33" font-size="8.69" text-anchor="middle" fill="#111" textLength="53.05" lengthAdjust="spacingAndGlyphs" >TP53 mutated</text>
<line x1="62.04" y1="491.68" x2="62.04" y2="494.02" stroke="#185593" stroke-width="1.0" />
<line x1="60.24" y1="491.68" x2="63.84" y2="491.68" stroke="#185593" stroke-width="1.0" />
<line x1="60.24" y1="494.02" x2="63.84" y2="494.02" stroke="#185593" stroke-width="1.0" />
<line x1="73.28" y1="495.19" x2="73.28" y2="496.75" stroke="#185593" stroke-width="1.0" />
<line x1="71.48" y1="495.19" x2="75.08" y2="495.19" stroke="#185593" stroke-width="1.0" />
<line x1="71.48" y1="496.75" x2="75.08" y2="496.75" stroke="#185593" stroke-width="1.0" />
<line x1="84.52" y1="516.80" x2="84.52" y2="540.20" stroke="#185593" stroke-width="1.0" />
<line x1="82.72" y1="516.80" x2="86.32" y2="516.80" stroke="#185593" stroke-width="1.0" />
<line x1="82.72" y1="540.20" x2="86.32" y2="540.20" stroke="#185593" stroke-width="1.0" />
<line x1="95.76" y1="549.63" x2="95.76" y2="563.67" stroke="#185593" stroke-width="1.0" />
<line x1="93.96" y1="549.63" x2="97.56" y2="549.63" stroke="#185593" stroke-width="1.0" />
<line x1="93.96" y1="563.67" x2="97.56" y2="563.67" stroke="#185593" stroke-width="1.0" />
<line x1="107.00" y1="550.41" x2="107.00" y2="562.89" stroke="#185593" stroke-width="1.0" />
<line x1="105.20" y1="550.41" x2="108.80" y2="550.41" stroke="#185593" stroke-width="1.0" />
<line x1="105.20" y1="562.89" x2="108.80" y2="562.89" stroke="#185593" stroke-width="1.0" />
<line x1="118.24" y1="555.64" x2="118.24" y2="557.20" stroke="#185593" stroke-width="1.0" />
<line x1="116.44" y1="555.64" x2="120.04" y2="555.64" stroke="#185593" stroke-width="1.0" />
<line x1="116.44" y1="557.20" x2="120.04" y2="557.20" stroke="#185593" stroke-width="1.0" />
<line x1="129.48" y1="556.65" x2="129.48" y2="566.01" stroke="#185593" stroke-width="1.0" />
<line x1="127.68" y1="556.65" x2="131.28" y2="556.65" stroke="#185593" stroke-width="1.0" />
<line x1="127.68" y1="566.01" x2="131.28" y2="566.01" stroke="#185593" stroke-width="1.0" />
<line x1="140.72" y1="570.46" x2="140.72" y2="572.02" stroke="#185593" stroke-width="1.0" />
<line x1="138.92" y1="570.46" x2="142.52" y2="570.46" stroke="#185593" stroke-width="1.0" />
<line x1="138.92" y1="572.02" x2="142.52" y2="572.02" stroke="#185593" stroke-width="1.0" />
<path d="M50.80,494.80 L62.04,492.85 L73.28,495.97 L84.52,528.50 L95.76,556.65 L107.00,556.65 L118.24,556.42 L129.48,561.33 L140.72,571.24 L151.96,572.80" fill="none" stroke="#185593" stroke-width="1.4" stroke-linejoin="round"/>
<rect x="48.70" y="492.70" width="4.2" height="4.2" fill="#185593"/>
<rect x="59.94" y="490.75" width="4.2" height="4.2" fill="#185593"/>
<rect x="71.18" y="493.87" width="4.2" height="4.2" fill="#185593"/>
<rect x="82.42" y="526.40" width="4.2" height="4.2" fill="#185593"/>
<rect x="93.66" y="554.55" width="4.2" height="4.2" fill="#185593"/>
<rect x="104.90" y="554.55" width="4.2" height="4.2" fill="#185593"/>
<rect x="116.14" y="554.32" width="4.2" height="4.2" fill="#185593"/>
<rect x="127.38" y="559.23" width="4.2" height="4.2" fill="#185593"/>
<rect x="138.62" y="569.14" width="4.2" height="4.2" fill="#185593"/>
<rect x="149.86" y="570.70" width="4.2" height="4.2" fill="#185593"/>
<line x1="62.04" y1="494.41" x2="62.04" y2="499.09" stroke="#c50f30" stroke-width="1.0" />
<line x1="60.24" y1="494.41" x2="63.84" y2="494.41" stroke="#c50f30" stroke-width="1.0" />
<line x1="60.24" y1="499.09" x2="63.84" y2="499.09" stroke="#c50f30" stroke-width="1.0" />
<line x1="84.52" y1="495.97" x2="84.52" y2="500.65" stroke="#c50f30" stroke-width="1.0" />
<line x1="82.72" y1="495.97" x2="86.32" y2="495.97" stroke="#c50f30" stroke-width="1.0" />
<line x1="82.72" y1="500.65" x2="86.32" y2="500.65" stroke="#c50f30" stroke-width="1.0" />
<line x1="95.76" y1="497.92" x2="95.76" y2="501.82" stroke="#c50f30" stroke-width="1.0" />
<line x1="93.96" y1="497.92" x2="97.56" y2="497.92" stroke="#c50f30" stroke-width="1.0" />
<line x1="93.96" y1="501.82" x2="97.56" y2="501.82" stroke="#c50f30" stroke-width="1.0" />
<line x1="118.24" y1="503.46" x2="118.24" y2="505.80" stroke="#c50f30" stroke-width="1.0" />
<line x1="116.44" y1="503.46" x2="120.04" y2="503.46" stroke="#c50f30" stroke-width="1.0" />
<line x1="116.44" y1="505.80" x2="120.04" y2="505.80" stroke="#c50f30" stroke-width="1.0" />
<line x1="129.48" y1="510.48" x2="129.48" y2="514.38" stroke="#c50f30" stroke-width="1.0" />
<line x1="127.68" y1="510.48" x2="131.28" y2="510.48" stroke="#c50f30" stroke-width="1.0" />
<line x1="127.68" y1="514.38" x2="131.28" y2="514.38" stroke="#c50f30" stroke-width="1.0" />
<line x1="140.72" y1="527.87" x2="140.72" y2="530.99" stroke="#c50f30" stroke-width="1.0" />
<line x1="138.92" y1="527.87" x2="142.52" y2="527.87" stroke="#c50f30" stroke-width="1.0" />
<line x1="138.92" y1="530.99" x2="142.52" y2="530.99" stroke="#c50f30" stroke-width="1.0" />
<path d="M50.80,494.80 L62.04,496.75 L73.28,497.14 L84.52,498.31 L95.76,499.87 L107.00,500.65 L118.24,504.63 L129.48,512.43 L140.72,529.43 L151.96,547.06" fill="none" stroke="#c50f30" stroke-width="1.4" stroke-linejoin="round"/>
<circle cx="50.80" cy="494.80" r="2.2" fill="#c50f30"/>
<circle cx="62.04" cy="496.75" r="2.2" fill="#c50f30"/>
<circle cx="73.28" cy="497.14" r="2.2" fill="#c50f30"/>
<circle cx="84.52" cy="498.31" r="2.2" fill="#c50f30"/>
<circle cx="95.76" cy="499.87" r="2.2" fill="#c50f30"/>
<circle cx="107.00" cy="500.65" r="2.2" fill="#c50f30"/>
<circle cx="118.24" cy="504.63" r="2.2" fill="#c50f30"/>
<circle cx="129.48" cy="512.43" r="2.2" fill="#c50f30"/>
<circle cx="140.72" cy="529.43" r="2.2" fill="#c50f30"/>
<circle cx="151.96" cy="547.06" r="2.2" fill="#c50f30"/>
<line x1="167.50" y1="491.50" x2="167.50" y2="573.40" stroke="#111" stroke-width="1.3" />
<line x1="166.90" y1="572.80" x2="277.00" y2="572.80" stroke="#111" stroke-width="1.3" />
<line x1="164.30" y1="495.50" x2="167.50" y2="495.50" stroke="#111" stroke-width="1.0" />
<line x1="164.30" y1="534.15" x2="167.50" y2="534.15" stroke="#111" stroke-width="1.0" />
<line x1="164.30" y1="572.80" x2="167.50" y2="572.80" stroke="#111" stroke-width="1.0" />
<line x1="173.30" y1="572.80" x2="173.30" y2="575.60" stroke="#111" stroke-width="1.0" />
<text x="177.90" y="582.00" font-size="8.69" text-anchor="end" fill="#111" textLength="23.37" lengthAdjust="spacingAndGlyphs" transform="rotate(-45 177.90 582.00)" >DMSO</text>
<line x1="184.47" y1="572.80" x2="184.47" y2="575.60" stroke="#111" stroke-width="1.0" />
<text x="189.07" y="582.00" font-size="8.69" text-anchor="end" fill="#111" textLength="36.82" lengthAdjust="spacingAndGlyphs" transform="rotate(-45 189.07 582.00)" >0.0390625</text>
<line x1="195.64" y1="572.80" x2="195.64" y2="575.60" stroke="#111" stroke-width="1.0" />
<text x="200.24" y="582.00" font-size="8.69" text-anchor="end" fill="#111" textLength="32.49" lengthAdjust="spacingAndGlyphs" transform="rotate(-45 200.24 582.00)" >0.078125</text>
<line x1="206.81" y1="572.80" x2="206.81" y2="575.60" stroke="#111" stroke-width="1.0" />
<text x="211.41" y="582.00" font-size="8.69" text-anchor="end" fill="#111" textLength="28.16" lengthAdjust="spacingAndGlyphs" transform="rotate(-45 211.41 582.00)" >0.15625</text>
<line x1="217.98" y1="572.80" x2="217.98" y2="575.60" stroke="#111" stroke-width="1.0" />
<text x="222.58" y="582.00" font-size="8.69" text-anchor="end" fill="#111" textLength="23.82" lengthAdjust="spacingAndGlyphs" transform="rotate(-45 222.58 582.00)" >0.3125</text>
<line x1="229.15" y1="572.80" x2="229.15" y2="575.60" stroke="#111" stroke-width="1.0" />
<text x="233.75" y="582.00" font-size="8.69" text-anchor="end" fill="#111" textLength="19.49" lengthAdjust="spacingAndGlyphs" transform="rotate(-45 233.75 582.00)" >0.625</text>
<line x1="240.32" y1="572.80" x2="240.32" y2="575.60" stroke="#111" stroke-width="1.0" />
<text x="244.92" y="582.00" font-size="8.69" text-anchor="end" fill="#111" textLength="15.16" lengthAdjust="spacingAndGlyphs" transform="rotate(-45 244.92 582.00)" >1.25</text>
<line x1="251.49" y1="572.80" x2="251.49" y2="575.60" stroke="#111" stroke-width="1.0" />
<text x="256.09" y="582.00" font-size="8.69" text-anchor="end" fill="#111" textLength="10.83" lengthAdjust="spacingAndGlyphs" transform="rotate(-45 256.09 582.00)" >2.5</text>
<line x1="262.66" y1="572.80" x2="262.66" y2="575.60" stroke="#111" stroke-width="1.0" />
<text x="267.26" y="582.00" font-size="8.69" text-anchor="end" fill="#111" textLength="4.33" lengthAdjust="spacingAndGlyphs" transform="rotate(-45 267.26 582.00)" >5</text>
<line x1="273.83" y1="572.80" x2="273.83" y2="575.60" stroke="#111" stroke-width="1.0" />
<text x="278.43" y="582.00" font-size="8.69" text-anchor="end" fill="#111" textLength="8.66" lengthAdjust="spacingAndGlyphs" transform="rotate(-45 278.43 582.00)" >10</text>
<text x="222.00" y="467.23" font-size="8.69" text-anchor="middle" fill="#111" textLength="16.4" lengthAdjust="spacingAndGlyphs" >MT1</text>
<text x="222.00" y="477.33" font-size="8.69" text-anchor="middle" fill="#111" textLength="53.05" lengthAdjust="spacingAndGlyphs" >TP53 mutated</text>
<line x1="184.47" y1="492.56" x2="184.47" y2="504.93" stroke="#185593" stroke-width="1.0" />
<line x1="182.67" y1="492.56" x2="186.27" y2="492.56" stroke="#185593" stroke-width="1.0" />
<line x1="182.67" y1="504.93" x2="186.27" y2="504.93" stroke="#185593" stroke-width="1.0" />
<line x1="195.64" y1="502.38" x2="195.64" y2="514.28" stroke="#185593" stroke-width="1.0" />
<line x1="193.84" y1="502.38" x2="197.44" y2="502.38" stroke="#185593" stroke-width="1.0" />
<line x1="193.84" y1="514.28" x2="197.44" y2="514.28" stroke="#185593" stroke-width="1.0" />
<line x1="229.15" y1="520.24" x2="229.15" y2="523.33" stroke="#185593" stroke-width="1.0" />
<line x1="227.35" y1="520.24" x2="230.95" y2="520.24" stroke="#185593" stroke-width="1.0" />
<line x1="227.35" y1="523.33" x2="230.95" y2="523.33" stroke="#185593" stroke-width="1.0" />
<line x1="240.32" y1="528.89" x2="240.32" y2="538.94" stroke="#185593" stroke-width="1.0" />
<line x1="238.52" y1="528.89" x2="242.12" y2="528.89" stroke="#185593" stroke-width="1.0" />
<line x1="238.52" y1="538.94" x2="242.12" y2="538.94" stroke="#185593" stroke-width="1.0" />
<line x1="251.49" y1="541.65" x2="251.49" y2="546.29" stroke="#185593" stroke-width="1.0" />
<line x1="249.69" y1="541.65" x2="253.29" y2="541.65" stroke="#185593" stroke-width="1.0" />
<line x1="249.69" y1="546.29" x2="253.29" y2="546.29" stroke="#185593" stroke-width="1.0" />
<path d="M173.30,495.50 L184.47,498.75 L195.64,508.33 L206.81,510.96 L217.98,517.14 L229.15,521.78 L240.32,533.92 L251.49,543.97 L262.66,560.97 L273.83,569.55" fill="none" stroke="#185593" stroke-width="1.4" stroke-linejoin="round"/>
<rect x="171.20" y="493.40" width="4.2" height="4.2" fill="#185593"/>
<rect x="182.37" y="496.65" width="4.2" height="4.2" fill="#185593"/>
<rect x="193.54" y="506.23" width="4.2" height="4.2" fill="#185593"/>
<rect x="204.71" y="508.86" width="4.2" height="4.2" fill="#185593"/>
<rect x="215.88" y="515.04" width="4.2" height="4.2" fill="#185593"/>
<rect x="227.05" y="519.68" width="4.2" height="4.2" fill="#185593"/>
<rect x="238.22" y="531.82" width="4.2" height="4.2" fill="#185593"/>
<rect x="249.39" y="541.87" width="4.2" height="4.2" fill="#185593"/>
<rect x="260.56" y="558.87" width="4.2" height="4.2" fill="#185593"/>
<rect x="271.73" y="567.45" width="4.2" height="4.2" fill="#185593"/>
<line x1="206.81" y1="497.59" x2="206.81" y2="499.91" stroke="#c50f30" stroke-width="1.0" />
<line x1="205.01" y1="497.59" x2="208.61" y2="497.59" stroke="#c50f30" stroke-width="1.0" />
<line x1="205.01" y1="499.91" x2="208.61" y2="499.91" stroke="#c50f30" stroke-width="1.0" />
<line x1="217.98" y1="499.75" x2="217.98" y2="502.07" stroke="#c50f30" stroke-width="1.0" />
<line x1="216.18" y1="499.75" x2="219.78" y2="499.75" stroke="#c50f30" stroke-width="1.0" />
<line x1="216.18" y1="502.07" x2="219.78" y2="502.07" stroke="#c50f30" stroke-width="1.0" />
<line x1="240.32" y1="504.47" x2="240.32" y2="510.65" stroke="#c50f30" stroke-width="1.0" />
<line x1="238.52" y1="504.47" x2="242.12" y2="504.47" stroke="#c50f30" stroke-width="1.0" />
<line x1="238.52" y1="510.65" x2="242.12" y2="510.65" stroke="#c50f30" stroke-width="1.0" />
<path d="M173.30,495.50 L184.47,496.27 L195.64,497.51 L206.81,498.75 L217.98,500.91 L229.15,504.54 L240.32,507.56 L251.49,515.60 L262.66,534.38 L273.83,565.30" fill="none" stroke="#c50f30" stroke-width="1.4" stroke-linejoin="round"/>
<circle cx="173.30" cy="495.50" r="2.2" fill="#c50f30"/>
<circle cx="184.47" cy="496.27" r="2.2" fill="#c50f30"/>
<circle cx="195.64" cy="497.51" r="2.2" fill="#c50f30"/>
<circle cx="206.81" cy="498.75" r="2.2" fill="#c50f30"/>
<circle cx="217.98" cy="500.91" r="2.2" fill="#c50f30"/>
<circle cx="229.15" cy="504.54" r="2.2" fill="#c50f30"/>
<circle cx="240.32" cy="507.56" r="2.2" fill="#c50f30"/>
<circle cx="251.49" cy="515.60" r="2.2" fill="#c50f30"/>
<circle cx="262.66" cy="534.38" r="2.2" fill="#c50f30"/>
<circle cx="273.83" cy="565.30" r="2.2" fill="#c50f30"/>
<line x1="290.00" y1="495.50" x2="290.00" y2="573.40" stroke="#111" stroke-width="1.3" />
<line x1="289.40" y1="572.80" x2="393.80" y2="572.80" stroke="#111" stroke-width="1.3" />
<line x1="286.80" y1="500.00" x2="290.00" y2="500.00" stroke="#111" stroke-width="1.0" />
<line x1="286.80" y1="536.40" x2="290.00" y2="536.40" stroke="#111" stroke-width="1.0" />
<line x1="286.80" y1="572.80" x2="290.00" y2="572.80" stroke="#111" stroke-width="1.0" />
<line x1="294.50" y1="572.80" x2="294.50" y2="575.60" stroke="#111" stroke-width="1.0" />
<text x="299.10" y="582.00" font-size="8.69" text-anchor="end" fill="#111" textLength="23.37" lengthAdjust="spacingAndGlyphs" transform="rotate(-45 299.10 582.00)" >DMSO</text>
<line x1="305.06" y1="572.80" x2="305.06" y2="575.60" stroke="#111" stroke-width="1.0" />
<text x="309.66" y="582.00" font-size="8.69" text-anchor="end" fill="#111" textLength="36.82" lengthAdjust="spacingAndGlyphs" transform="rotate(-45 309.66 582.00)" >0.0390625</text>
<line x1="315.62" y1="572.80" x2="315.62" y2="575.60" stroke="#111" stroke-width="1.0" />
<text x="320.22" y="582.00" font-size="8.69" text-anchor="end" fill="#111" textLength="32.49" lengthAdjust="spacingAndGlyphs" transform="rotate(-45 320.22 582.00)" >0.078125</text>
<line x1="326.18" y1="572.80" x2="326.18" y2="575.60" stroke="#111" stroke-width="1.0" />
<text x="330.78" y="582.00" font-size="8.69" text-anchor="end" fill="#111" textLength="28.16" lengthAdjust="spacingAndGlyphs" transform="rotate(-45 330.78 582.00)" >0.15625</text>
<line x1="336.74" y1="572.80" x2="336.74" y2="575.60" stroke="#111" stroke-width="1.0" />
<text x="341.34" y="582.00" font-size="8.69" text-anchor="end" fill="#111" textLength="23.82" lengthAdjust="spacingAndGlyphs" transform="rotate(-45 341.34 582.00)" >0.3125</text>
<line x1="347.30" y1="572.80" x2="347.30" y2="575.60" stroke="#111" stroke-width="1.0" />
<text x="351.90" y="582.00" font-size="8.69" text-anchor="end" fill="#111" textLength="19.49" lengthAdjust="spacingAndGlyphs" transform="rotate(-45 351.90 582.00)" >0.625</text>
<line x1="357.86" y1="572.80" x2="357.86" y2="575.60" stroke="#111" stroke-width="1.0" />
<text x="362.46" y="582.00" font-size="8.69" text-anchor="end" fill="#111" textLength="15.16" lengthAdjust="spacingAndGlyphs" transform="rotate(-45 362.46 582.00)" >1.25</text>
<line x1="368.42" y1="572.80" x2="368.42" y2="575.60" stroke="#111" stroke-width="1.0" />
<text x="373.02" y="582.00" font-size="8.69" text-anchor="end" fill="#111" textLength="10.83" lengthAdjust="spacingAndGlyphs" transform="rotate(-45 373.02 582.00)" >2.5</text>
<line x1="378.98" y1="572.80" x2="378.98" y2="575.60" stroke="#111" stroke-width="1.0" />
<text x="383.58" y="582.00" font-size="8.69" text-anchor="end" fill="#111" textLength="4.33" lengthAdjust="spacingAndGlyphs" transform="rotate(-45 383.58 582.00)" >5</text>
<line x1="389.54" y1="572.80" x2="389.54" y2="575.60" stroke="#111" stroke-width="1.0" />
<text x="394.14" y="582.00" font-size="8.69" text-anchor="end" fill="#111" textLength="8.66" lengthAdjust="spacingAndGlyphs" transform="rotate(-45 394.14 582.00)" >10</text>
<text x="339.50" y="467.23" font-size="8.69" text-anchor="middle" fill="#111" textLength="28.72" lengthAdjust="spacingAndGlyphs" >Su9T01</text>
<text x="339.50" y="477.33" font-size="8.69" text-anchor="middle" fill="#111" textLength="35.68" lengthAdjust="spacingAndGlyphs" >TP53 null</text>
<path d="M294.50,500.00 L305.06,500.51 L315.62,502.98 L326.18,506.77 L336.74,513.83 L347.30,514.56 L357.86,528.39 L368.42,531.38 L378.98,543.46 L389.54,558.24" fill="none" stroke="#185593" stroke-width="1.4" stroke-linejoin="round"/>
<rect x="292.40" y="497.90" width="4.2" height="4.2" fill="#185593"/>
<rect x="302.96" y="498.41" width="4.2" height="4.2" fill="#185593"/>
<rect x="313.52" y="500.88" width="4.2" height="4.2" fill="#185593"/>
<rect x="324.08" y="504.67" width="4.2" height="4.2" fill="#185593"/>
<rect x="334.64" y="511.73" width="4.2" height="4.2" fill="#185593"/>
<rect x="345.20" y="512.46" width="4.2" height="4.2" fill="#185593"/>
<rect x="355.76" y="526.29" width="4.2" height="4.2" fill="#185593"/>
<rect x="366.32" y="529.28" width="4.2" height="4.2" fill="#185593"/>
<rect x="376.88" y="541.36" width="4.2" height="4.2" fill="#185593"/>
<rect x="387.44" y="556.14" width="4.2" height="4.2" fill="#185593"/>
<line x1="315.62" y1="504.08" x2="315.62" y2="508.44" stroke="#c50f30" stroke-width="1.0" />
<line x1="313.82" y1="504.08" x2="317.42" y2="504.08" stroke="#c50f30" stroke-width="1.0" />
<line x1="313.82" y1="508.44" x2="317.42" y2="508.44" stroke="#c50f30" stroke-width="1.0" />
<line x1="326.18" y1="506.55" x2="326.18" y2="509.46" stroke="#c50f30" stroke-width="1.0" />
<line x1="324.38" y1="506.55" x2="327.98" y2="506.55" stroke="#c50f30" stroke-width="1.0" />
<line x1="324.38" y1="509.46" x2="327.98" y2="509.46" stroke="#c50f30" stroke-width="1.0" />
<line x1="347.30" y1="508.95" x2="347.30" y2="511.14" stroke="#c50f30" stroke-width="1.0" />
<line x1="345.50" y1="508.95" x2="349.10" y2="508.95" stroke="#c50f30" stroke-width="1.0" />
<line x1="345.50" y1="511.14" x2="349.10" y2="511.14" stroke="#c50f30" stroke-width="1.0" />
<path d="M294.50,500.00 L305.06,502.48 L315.62,506.26 L326.18,508.01 L336.74,509.32 L347.30,510.05 L357.86,513.32 L368.42,522.06 L378.98,532.10 L389.54,546.45" fill="none" stroke="#c50f30" stroke-width="1.4" stroke-linejoin="round"/>
<circle cx="294.50" cy="500.00" r="2.2" fill="#c50f30"/>
<circle cx="305.06" cy="502.48" r="2.2" fill="#c50f30"/>
<circle cx="315.62" cy="506.26" r="2.2" fill="#c50f30"/>
<circle cx="326.18" cy="508.01" r="2.2" fill="#c50f30"/>
<circle cx="336.74" cy="509.32" r="2.2" fill="#c50f30"/>
<circle cx="347.30" cy="510.05" r="2.2" fill="#c50f30"/>
<circle cx="357.86" cy="513.32" r="2.2" fill="#c50f30"/>
<circle cx="368.42" cy="522.06" r="2.2" fill="#c50f30"/>
<circle cx="378.98" cy="532.10" r="2.2" fill="#c50f30"/>
<circle cx="389.54" cy="546.45" r="2.2" fill="#c50f30"/>
<line x1="405.00" y1="495.00" x2="405.00" y2="573.40" stroke="#111" stroke-width="1.3" />
<line x1="404.40" y1="572.80" x2="511.30" y2="572.80" stroke="#111" stroke-width="1.3" />
<line x1="401.80" y1="498.75" x2="405.00" y2="498.75" stroke="#111" stroke-width="1.0" />
<line x1="401.80" y1="535.77" x2="405.00" y2="535.77" stroke="#111" stroke-width="1.0" />
<line x1="401.80" y1="572.80" x2="405.00" y2="572.80" stroke="#111" stroke-width="1.0" />
<line x1="410.00" y1="572.80" x2="410.00" y2="575.60" stroke="#111" stroke-width="1.0" />
<text x="414.60" y="582.00" font-size="8.69" text-anchor="end" fill="#111" textLength="23.37" lengthAdjust="spacingAndGlyphs" transform="rotate(-45 414.60 582.00)" >DMSO</text>
<line x1="420.75" y1="572.80" x2="420.75" y2="575.60" stroke="#111" stroke-width="1.0" />
<text x="425.35" y="582.00" font-size="8.69" text-anchor="end" fill="#111" textLength="36.82" lengthAdjust="spacingAndGlyphs" transform="rotate(-45 425.35 582.00)" >0.0390625</text>
<line x1="431.50" y1="572.80" x2="431.50" y2="575.60" stroke="#111" stroke-width="1.0" />
<text x="436.10" y="582.00" font-size="8.69" text-anchor="end" fill="#111" textLength="32.49" lengthAdjust="spacingAndGlyphs" transform="rotate(-45 436.10 582.00)" >0.078125</text>
<line x1="442.25" y1="572.80" x2="442.25" y2="575.60" stroke="#111" stroke-width="1.0" />
<text x="446.85" y="582.00" font-size="8.69" text-anchor="end" fill="#111" textLength="28.16" lengthAdjust="spacingAndGlyphs" transform="rotate(-45 446.85 582.00)" >0.15625</text>
<line x1="453.00" y1="572.80" x2="453.00" y2="575.60" stroke="#111" stroke-width="1.0" />
<text x="457.60" y="582.00" font-size="8.69" text-anchor="end" fill="#111" textLength="23.82" lengthAdjust="spacingAndGlyphs" transform="rotate(-45 457.60 582.00)" >0.3125</text>
<line x1="463.75" y1="572.80" x2="463.75" y2="575.60" stroke="#111" stroke-width="1.0" />
<text x="468.35" y="582.00" font-size="8.69" text-anchor="end" fill="#111" textLength="19.49" lengthAdjust="spacingAndGlyphs" transform="rotate(-45 468.35 582.00)" >0.625</text>
<line x1="474.50" y1="572.80" x2="474.50" y2="575.60" stroke="#111" stroke-width="1.0" />
<text x="479.10" y="582.00" font-size="8.69" text-anchor="end" fill="#111" textLength="15.16" lengthAdjust="spacingAndGlyphs" transform="rotate(-45 479.10 582.00)" >1.25</text>
<line x1="485.25" y1="572.80" x2="485.25" y2="575.60" stroke="#111" stroke-width="1.0" />
<text x="489.85" y="582.00" font-size="8.69" text-anchor="end" fill="#111" textLength="10.83" lengthAdjust="spacingAndGlyphs" transform="rotate(-45 489.85 582.00)" >2.5</text>
<line x1="496.00" y1="572.80" x2="496.00" y2="575.60" stroke="#111" stroke-width="1.0" />
<text x="500.60" y="582.00" font-size="8.69" text-anchor="end" fill="#111" textLength="4.33" lengthAdjust="spacingAndGlyphs" transform="rotate(-45 500.60 582.00)" >5</text>
<line x1="506.75" y1="572.80" x2="506.75" y2="575.60" stroke="#111" stroke-width="1.0" />
<text x="511.35" y="582.00" font-size="8.69" text-anchor="end" fill="#111" textLength="8.66" lengthAdjust="spacingAndGlyphs" transform="rotate(-45 511.35 582.00)" >10</text>
<text x="457.00" y="467.23" font-size="8.69" text-anchor="middle" fill="#111" textLength="44.21" lengthAdjust="spacingAndGlyphs" >ED40515(–)</text>
<text x="457.00" y="477.33" font-size="8.69" text-anchor="middle" fill="#111" textLength="35.68" lengthAdjust="spacingAndGlyphs" >TP53 null</text>
<line x1="420.75" y1="493.57" x2="420.75" y2="503.93" stroke="#185593" stroke-width="1.0" />
<line x1="418.95" y1="493.57" x2="422.55" y2="493.57" stroke="#185593" stroke-width="1.0" />
<line x1="418.95" y1="503.93" x2="422.55" y2="503.93" stroke="#185593" stroke-width="1.0" />
<line x1="431.50" y1="501.71" x2="431.50" y2="512.08" stroke="#185593" stroke-width="1.0" />
<line x1="429.70" y1="501.71" x2="433.30" y2="501.71" stroke="#185593" stroke-width="1.0" />
<line x1="429.70" y1="512.08" x2="433.30" y2="512.08" stroke="#185593" stroke-width="1.0" />
<line x1="442.25" y1="510.38" x2="442.25" y2="517.78" stroke="#185593" stroke-width="1.0" />
<line x1="440.45" y1="510.38" x2="444.05" y2="510.38" stroke="#185593" stroke-width="1.0" />
<line x1="440.45" y1="517.78" x2="444.05" y2="517.78" stroke="#185593" stroke-width="1.0" />
<line x1="453.00" y1="511.86" x2="453.00" y2="519.26" stroke="#185593" stroke-width="1.0" />
<line x1="451.20" y1="511.86" x2="454.80" y2="511.86" stroke="#185593" stroke-width="1.0" />
<line x1="451.20" y1="519.26" x2="454.80" y2="519.26" stroke="#185593" stroke-width="1.0" />
<line x1="463.75" y1="523.93" x2="463.75" y2="529.85" stroke="#185593" stroke-width="1.0" />
<line x1="461.95" y1="523.93" x2="465.55" y2="523.93" stroke="#185593" stroke-width="1.0" />
<line x1="461.95" y1="529.85" x2="465.55" y2="529.85" stroke="#185593" stroke-width="1.0" />
<line x1="474.50" y1="525.41" x2="474.50" y2="535.77" stroke="#185593" stroke-width="1.0" />
<line x1="472.70" y1="525.41" x2="476.30" y2="525.41" stroke="#185593" stroke-width="1.0" />
<line x1="472.70" y1="535.77" x2="476.30" y2="535.77" stroke="#185593" stroke-width="1.0" />
<path d="M410.00,498.75 L420.75,498.75 L431.50,506.90 L442.25,514.08 L453.00,515.56 L463.75,526.89 L474.50,530.59 L485.25,537.26 L496.00,543.18 L506.75,567.25" fill="none" stroke="#185593" stroke-width="1.4" stroke-linejoin="round"/>
<rect x="407.90" y="496.65" width="4.2" height="4.2" fill="#185593"/>
<rect x="418.65" y="496.65" width="4.2" height="4.2" fill="#185593"/>
<rect x="429.40" y="504.80" width="4.2" height="4.2" fill="#185593"/>
<rect x="440.15" y="511.98" width="4.2" height="4.2" fill="#185593"/>
<rect x="450.90" y="513.46" width="4.2" height="4.2" fill="#185593"/>
<rect x="461.65" y="524.79" width="4.2" height="4.2" fill="#185593"/>
<rect x="472.40" y="528.49" width="4.2" height="4.2" fill="#185593"/>
<rect x="483.15" y="535.16" width="4.2" height="4.2" fill="#185593"/>
<rect x="493.90" y="541.08" width="4.2" height="4.2" fill="#185593"/>
<rect x="504.65" y="565.15" width="4.2" height="4.2" fill="#185593"/>
<line x1="420.75" y1="503.64" x2="420.75" y2="515.49" stroke="#c50f30" stroke-width="1.0" />
<line x1="418.95" y1="503.64" x2="422.55" y2="503.64" stroke="#c50f30" stroke-width="1.0" />
<line x1="418.95" y1="515.49" x2="422.55" y2="515.49" stroke="#c50f30" stroke-width="1.0" />
<line x1="431.50" y1="509.41" x2="431.50" y2="519.78" stroke="#c50f30" stroke-width="1.0" />
<line x1="429.70" y1="509.41" x2="433.30" y2="509.41" stroke="#c50f30" stroke-width="1.0" />
<line x1="429.70" y1="519.78" x2="433.30" y2="519.78" stroke="#c50f30" stroke-width="1.0" />
<line x1="442.25" y1="515.12" x2="442.25" y2="522.52" stroke="#c50f30" stroke-width="1.0" />
<line x1="440.45" y1="515.12" x2="444.05" y2="515.12" stroke="#c50f30" stroke-width="1.0" />
<line x1="440.45" y1="522.52" x2="444.05" y2="522.52" stroke="#c50f30" stroke-width="1.0" />
<line x1="453.00" y1="520.97" x2="453.00" y2="528.37" stroke="#c50f30" stroke-width="1.0" />
<line x1="451.20" y1="520.97" x2="454.80" y2="520.97" stroke="#c50f30" stroke-width="1.0" />
<line x1="451.20" y1="528.37" x2="454.80" y2="528.37" stroke="#c50f30" stroke-width="1.0" />
<line x1="463.75" y1="528.96" x2="463.75" y2="537.85" stroke="#c50f30" stroke-width="1.0" />
<line x1="461.95" y1="528.96" x2="465.55" y2="528.96" stroke="#c50f30" stroke-width="1.0" />
<line x1="461.95" y1="537.85" x2="465.55" y2="537.85" stroke="#c50f30" stroke-width="1.0" />
<line x1="474.50" y1="537.48" x2="474.50" y2="541.92" stroke="#c50f30" stroke-width="1.0" />
<line x1="472.70" y1="537.48" x2="476.30" y2="537.48" stroke="#c50f30" stroke-width="1.0" />
<line x1="472.70" y1="541.92" x2="476.30" y2="541.92" stroke="#c50f30" stroke-width="1.0" />
<path d="M410.00,498.75 L420.75,509.56 L431.50,514.60 L442.25,518.82 L453.00,524.67 L463.75,533.41 L474.50,539.70 L485.25,545.70 L496.00,553.25 L506.75,560.73" fill="none" stroke="#c50f30" stroke-width="1.4" stroke-linejoin="round"/>
<circle cx="410.00" cy="498.75" r="2.2" fill="#c50f30"/>
<circle cx="420.75" cy="509.56" r="2.2" fill="#c50f30"/>
<circle cx="431.50" cy="514.60" r="2.2" fill="#c50f30"/>
<circle cx="442.25" cy="518.82" r="2.2" fill="#c50f30"/>
<circle cx="453.00" cy="524.67" r="2.2" fill="#c50f30"/>
<circle cx="463.75" cy="533.41" r="2.2" fill="#c50f30"/>
<circle cx="474.50" cy="539.70" r="2.2" fill="#c50f30"/>
<circle cx="485.25" cy="545.70" r="2.2" fill="#c50f30"/>
<circle cx="496.00" cy="553.25" r="2.2" fill="#c50f30"/>
<circle cx="506.75" cy="560.73" r="2.2" fill="#c50f30"/>
<line x1="466.30" y1="492.50" x2="476.30" y2="492.50" stroke="#c50f30" stroke-width="1.5" />
<circle cx="471.3" cy="492.5" r="2.1" fill="#c50f30"/>
<line x1="466.30" y1="502.50" x2="476.30" y2="502.50" stroke="#185593" stroke-width="1.5" />
<rect x="469.2" y="500.4" width="4.2" height="4.2" fill="#185593"/>
<text x="479.50" y="495.26" font-size="8.48" text-anchor="start" fill="#111" textLength="23.5" lengthAdjust="spacingAndGlyphs" >DMSO</text>
<text x="479.50" y="505.26" font-size="8.48" text-anchor="start" fill="#111" textLength="27.0" lengthAdjust="spacingAndGlyphs" >APR246</text>
</svg></div></body></html>
